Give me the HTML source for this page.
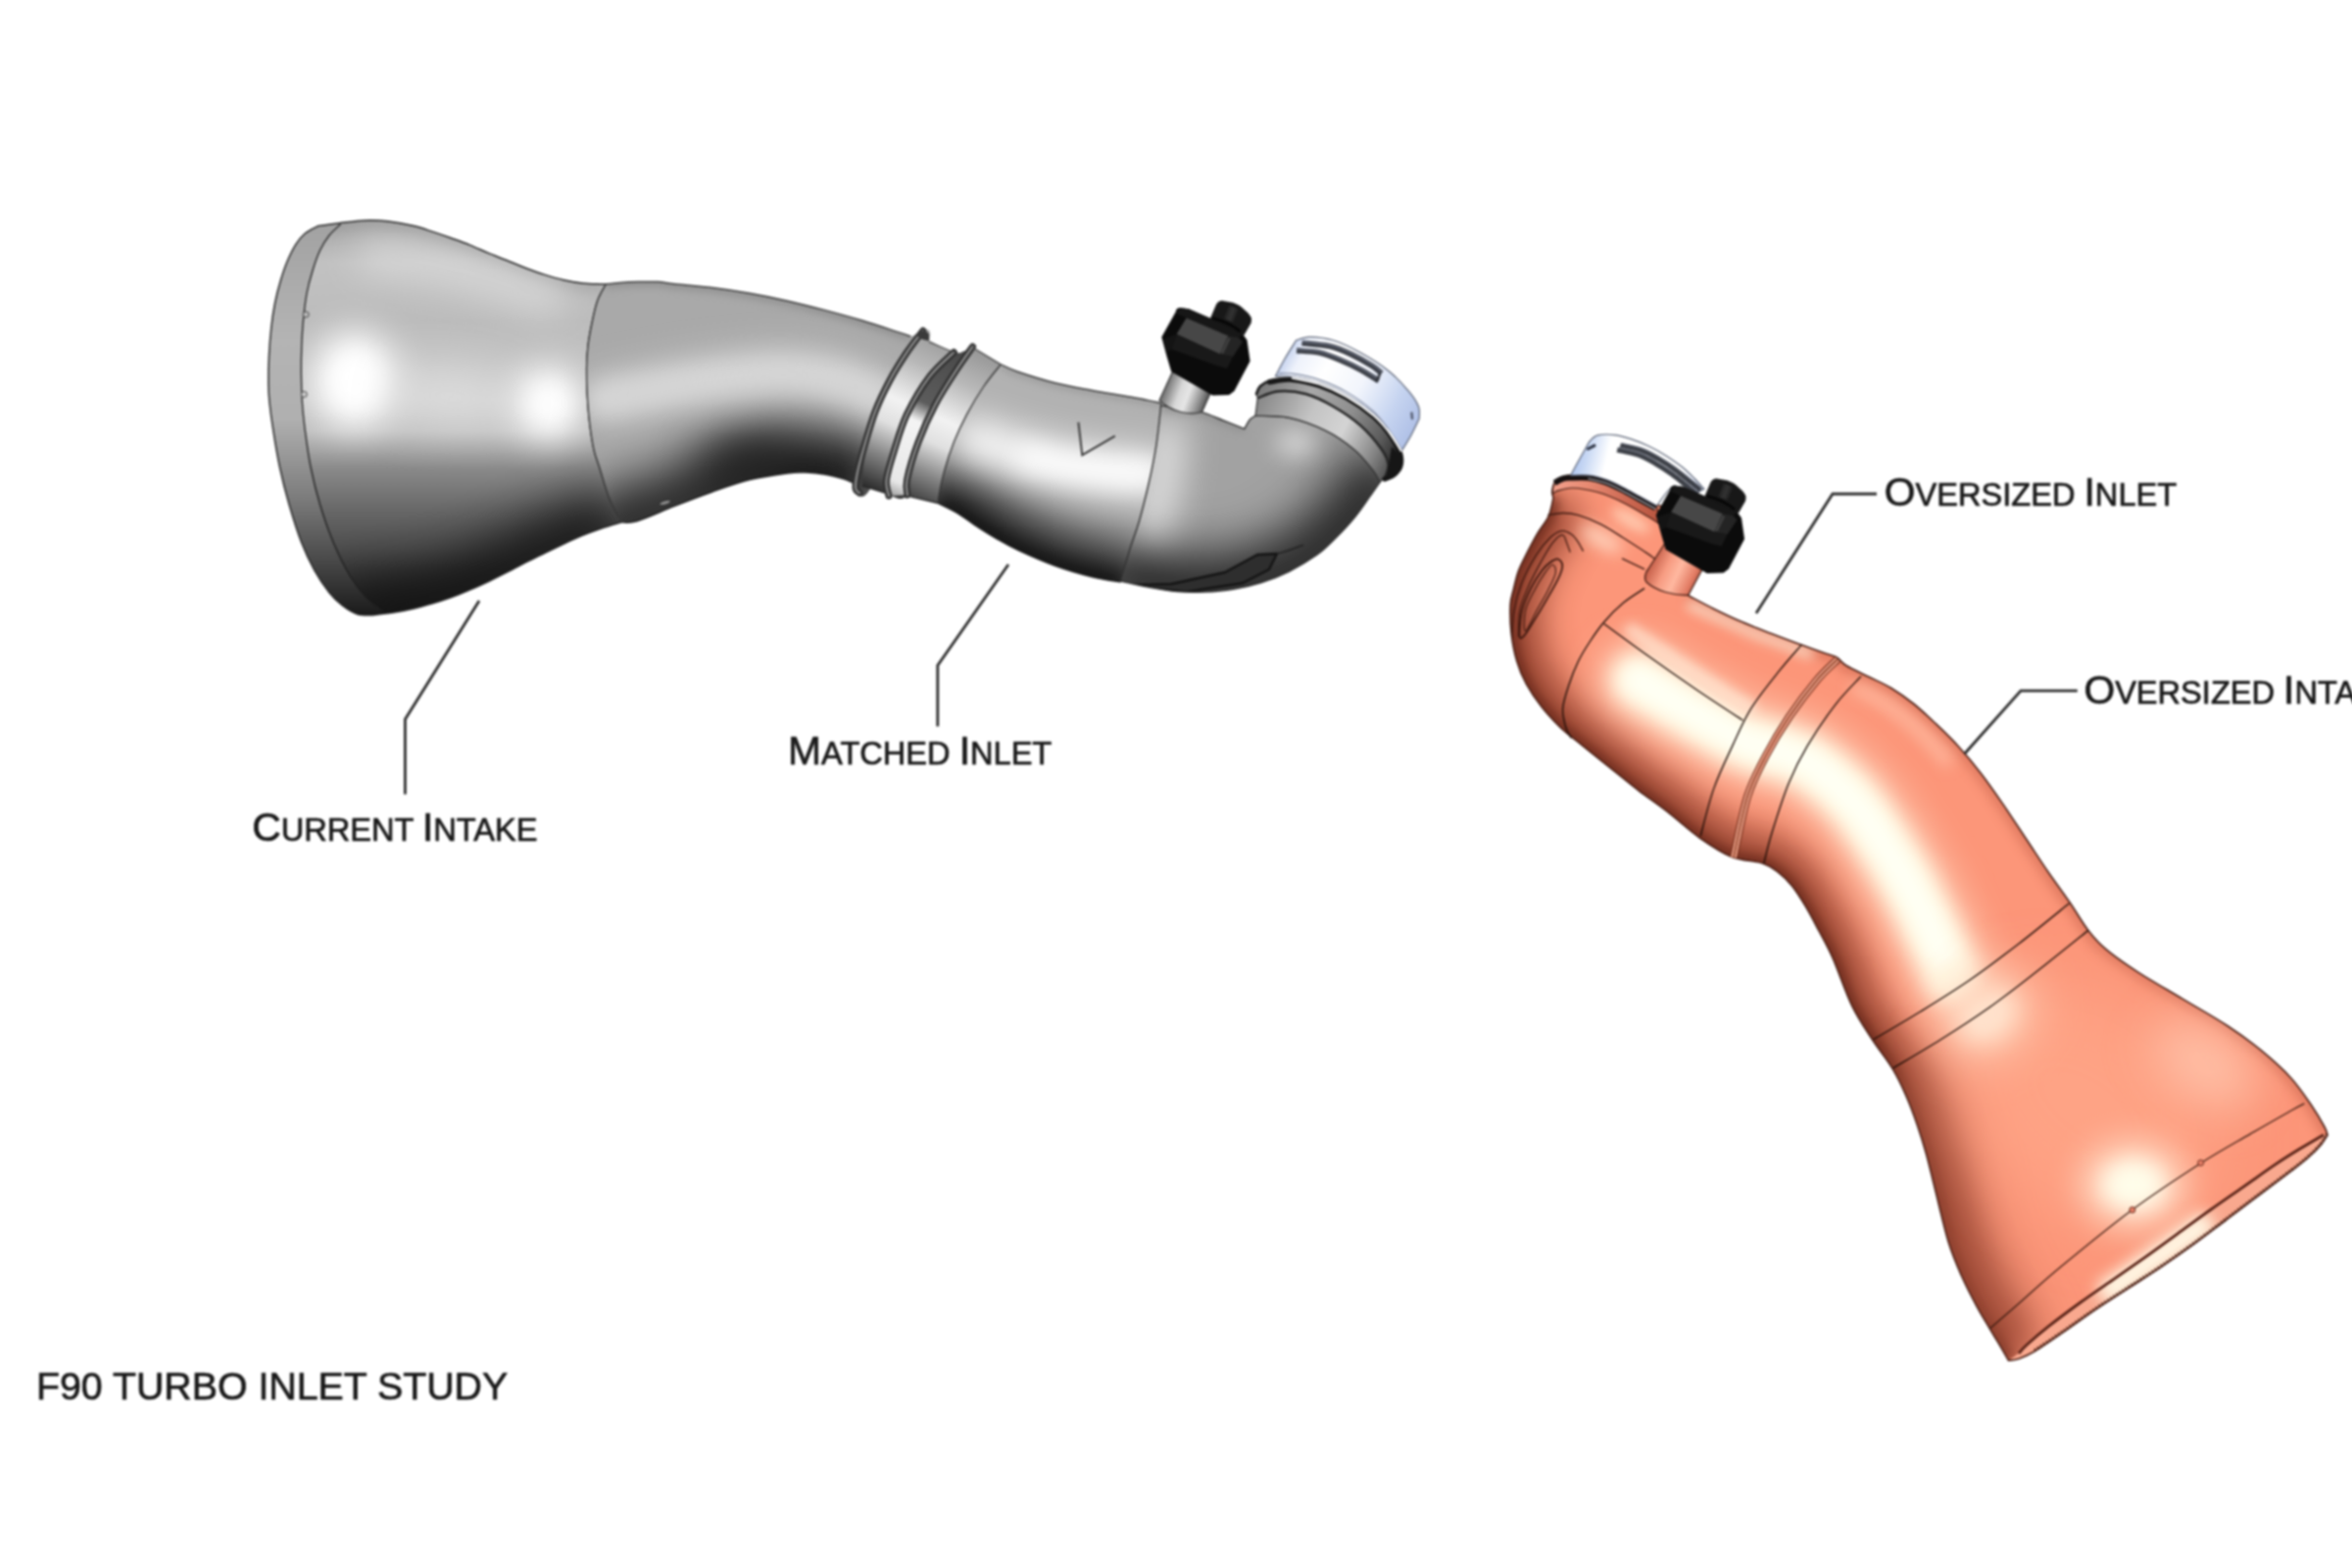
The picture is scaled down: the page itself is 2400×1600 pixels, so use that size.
<!DOCTYPE html>
<html><head><meta charset="utf-8"><title>F90 Turbo Inlet Study</title>
<style>
html,body{margin:0;padding:0;background:#fff;}
body{width:2400px;height:1600px;overflow:hidden;font-family:"Liberation Sans",sans-serif;}
svg{display:block}
.lb{font-family:"Liberation Sans",sans-serif;fill:#181818;stroke:#181818;stroke-width:0.7px;white-space:pre}
</style></head><body>
<svg width="2400" height="1600" viewBox="0 0 2400 1600">
<defs>
<clipPath id="cFunnel"><path d="M324.6 230.6C328.1 230.1 337.7 228.6 345.7 227.7C353.7 226.8 364.1 225.2 372.4 224.9C380.7 224.6 387.1 224.9 395.4 225.8C403.7 226.8 414.5 228.8 422.2 230.6C429.9 232.4 434.9 234.3 441.3 236.4C447.7 238.5 454.1 240.7 460.5 243.0C466.9 245.3 473.2 247.5 479.6 250.1C486.0 252.7 492.3 255.7 498.7 258.4C505.1 261.0 511.5 263.4 517.9 266.0C524.3 268.6 530.6 271.3 537.0 273.7C543.4 276.1 549.6 278.4 556.0 280.4C562.4 282.4 568.8 284.3 575.2 285.7C581.6 287.1 588.0 288.3 594.4 289.0C600.8 289.7 609.5 289.8 613.5 290.0C617.5 290.2 617.5 290.0 618.3 290.0L618.3 290.0C616.9 292.8 612.1 300.3 609.7 307.0C607.3 313.7 605.6 322.3 604.0 330.0C602.4 337.7 600.9 345.3 600.0 353.0C599.1 360.7 598.7 368.0 598.6 376.0C598.5 384.0 598.7 392.0 599.2 401.0C599.7 410.0 600.4 420.4 601.5 430.0C602.6 439.6 604.2 450.6 605.9 458.3C607.6 466.1 609.0 468.4 611.6 476.5C614.2 484.6 618.0 498.7 621.2 507.0C624.4 515.3 628.5 522.0 630.7 526.3C632.9 530.5 634.0 531.5 634.6 532.5L634.6 532.8C631.1 533.9 620.2 537.0 613.5 539.3C606.8 541.6 600.8 543.8 594.4 546.4C588.0 549.0 581.6 552.0 575.2 555.0C568.8 558.0 562.4 561.1 556.0 564.2C549.6 567.3 543.4 570.5 537.0 573.7C530.6 577.0 524.3 580.5 517.9 583.7C511.5 587.0 505.1 590.2 498.7 593.2C492.3 596.2 486.0 599.1 479.6 601.8C473.2 604.5 466.9 607.2 460.5 609.5C454.1 611.8 447.7 613.9 441.3 615.8C434.9 617.7 428.6 619.5 422.2 621.0C415.8 622.5 410.0 623.7 403.0 624.8C396.0 625.9 383.8 627.2 380.0 627.7L380.0 627.7C377.5 627.5 369.9 628.3 364.8 626.7C359.7 625.1 354.3 621.7 349.5 618.0C344.7 614.3 340.8 610.7 336.0 604.7C331.2 598.7 325.6 590.4 320.8 581.8C316.0 573.2 311.7 564.2 307.4 553.0C303.1 541.8 298.7 527.5 295.0 514.8C291.3 502.0 288.1 489.2 285.4 476.5C282.7 463.8 280.4 449.4 278.7 438.3C276.9 427.2 275.7 417.8 274.9 410.0C274.1 402.2 274.0 399.2 273.9 391.3C273.8 383.4 274.0 372.2 274.5 362.6C275.0 353.1 275.8 342.9 276.8 334.0C277.8 325.1 279.0 317.0 280.6 309.0C282.2 301.0 284.3 293.0 286.4 286.0C288.5 279.0 290.4 273.1 293.0 267.0C295.6 260.9 298.7 254.5 301.7 249.7C304.7 244.9 307.4 241.5 311.2 238.3C315.0 235.1 322.4 231.9 324.6 230.6Z"/></clipPath>
<clipPath id="cSeg2"><path d="M618.3 290.0C620.7 289.7 627.1 288.8 632.7 288.4C638.3 288.0 645.4 287.7 651.8 287.6C658.2 287.5 664.9 287.2 671.0 287.6C677.1 288.0 679.0 288.7 688.3 289.7C697.5 290.7 713.8 291.9 726.5 293.5C739.2 295.1 752.0 297.0 764.8 299.2C777.5 301.4 790.2 304.0 803.0 306.9C815.8 309.8 828.5 313.0 841.3 316.4C854.1 319.8 866.8 323.2 879.6 327.0C892.4 330.8 909.6 336.7 917.9 339.4C926.2 342.1 927.4 342.6 929.3 343.2L929.3 343.2C932.4 344.2 954.7 323.4 948.0 349.0C941.3 374.6 902.0 473.1 889.0 497.0C876.0 520.9 873.2 493.2 870.0 492.5L870.0 492.5C868.4 491.9 865.3 490.0 860.5 488.6C855.7 487.2 847.7 485.0 841.3 483.9C834.9 482.8 828.4 482.2 822.0 482.0C815.6 481.8 812.5 481.6 803.0 482.9C793.5 484.2 777.5 486.4 764.8 489.6C752.0 492.8 739.2 497.5 726.5 502.0C713.8 506.5 701.0 511.4 688.3 516.4C675.5 521.4 659.0 529.0 650.0 531.7C641.0 534.4 637.2 532.6 634.6 532.8L634.6 532.5C634.0 531.5 632.9 530.5 630.7 526.3C628.5 522.0 624.4 515.3 621.2 507.0C618.0 498.7 614.2 484.6 611.6 476.5C609.0 468.4 607.6 466.1 605.9 458.3C604.2 450.6 602.6 439.6 601.5 430.0C600.4 420.4 599.7 410.0 599.2 401.0C598.7 392.0 598.5 384.0 598.6 376.0C598.7 368.0 599.1 360.7 600.0 353.0C600.9 345.3 602.4 337.7 604.0 330.0C605.6 322.3 607.3 313.7 609.7 307.0C612.1 300.3 616.9 292.8 618.3 290.0Z"/></clipPath>
<clipPath id="cNeck"><path d="M944.0 345.0C948.9 347.4 966.5 357.3 973.3 359.5C980.1 361.7 981.8 358.8 985.0 358.0C988.2 357.2 986.5 352.7 992.5 355.0C998.5 357.3 1016.4 369.1 1021.2 371.9L1021.2 371.9C1018.3 375.6 1009.8 385.6 1004.0 394.0C998.2 402.4 991.8 413.1 986.7 422.6C981.6 432.2 977.1 441.7 973.3 451.3C969.5 460.9 966.3 470.9 963.8 480.0C961.2 489.1 959.0 500.4 958.0 506.0C957.0 511.6 957.6 512.2 957.5 513.5L957.5 513.5C952.8 512.4 935.9 507.6 929.3 506.8C922.7 506.1 922.5 509.6 918.0 509.0C913.5 508.4 908.9 505.2 902.6 503.0C896.3 500.8 883.8 497.2 880.0 496.0L880.0 496.0C880.3 491.7 880.2 479.7 882.0 470.0C883.8 460.3 887.0 449.7 891.0 438.0C895.0 426.3 900.3 411.7 906.0 400.0C911.7 388.3 918.7 377.2 925.0 368.0C931.3 358.8 940.8 348.8 944.0 345.0Z"/></clipPath>
<clipPath id="cSeg3"><path d="M1021.2 371.9C1024.0 373.1 1029.1 376.1 1038.3 379.2C1047.5 382.3 1063.8 387.5 1076.5 390.7C1089.2 393.9 1102.0 396.0 1114.8 398.4C1127.5 400.8 1141.8 402.9 1153.0 405.0C1164.2 407.1 1176.5 409.4 1181.8 410.8C1187.1 412.2 1184.1 413.2 1184.6 413.7L1184.6 413.7C1183.8 420.6 1181.9 441.6 1179.8 454.8C1177.7 468.0 1175.1 480.2 1172.2 493.0C1169.3 505.8 1165.8 520.1 1162.6 531.3C1159.4 542.5 1156.2 549.7 1153.0 560.0C1149.8 570.3 1145.1 587.5 1143.5 593.0L1143.5 594.0C1138.7 593.1 1126.0 591.5 1114.8 588.7C1103.6 585.9 1089.2 581.8 1076.5 577.2C1063.8 572.6 1048.4 565.7 1038.3 561.0C1028.2 556.3 1023.3 553.2 1016.0 549.0C1008.7 544.8 1000.9 539.8 994.4 535.5C987.9 531.2 983.1 527.2 977.0 523.5C970.9 519.8 960.8 515.2 957.5 513.5L957.5 513.5C957.6 512.2 957.0 511.6 958.0 506.0C959.0 500.4 961.2 489.1 963.8 480.0C966.3 470.9 969.5 460.9 973.3 451.3C977.1 441.7 981.6 432.2 986.7 422.6C991.8 413.1 998.2 402.4 1004.0 394.0C1009.8 385.6 1018.3 375.6 1021.2 371.9Z"/></clipPath>
<clipPath id="cElbow"><path d="M1184.6 413.7C1187.2 414.1 1193.1 414.9 1200.0 416.0C1206.9 417.1 1217.8 418.2 1225.8 420.4C1233.8 422.6 1240.7 426.1 1248.0 429.0C1255.3 431.9 1266.2 436.2 1269.8 437.6L1269.8 437.6C1270.8 436.0 1273.6 430.2 1275.5 428.0C1277.4 425.8 1280.1 424.9 1281.0 424.3L1281.0 424.3C1286.6 424.6 1302.8 423.6 1314.8 426.1C1326.8 428.6 1341.8 434.1 1353.0 439.5C1364.2 444.9 1373.8 451.9 1381.8 458.6C1389.8 465.3 1396.5 474.1 1400.9 479.7C1405.3 485.3 1406.8 489.9 1408.0 492.0L1408.0 492.0C1406.3 494.4 1402.2 500.5 1398.0 506.4C1393.8 512.3 1388.5 520.5 1382.7 527.5C1377.0 534.5 1369.9 542.1 1363.5 548.5C1357.1 554.9 1352.4 560.0 1344.4 565.8C1336.4 571.5 1325.3 578.2 1315.7 583.0C1306.1 587.8 1296.6 591.5 1287.0 594.5C1277.4 597.5 1267.9 599.6 1258.3 601.2C1248.7 602.8 1239.2 603.6 1229.6 604.0C1220.0 604.4 1210.5 604.4 1200.9 603.6C1191.3 602.8 1181.8 601.0 1172.2 599.2C1162.6 597.4 1148.3 594.0 1143.5 593.0L1143.5 593.0C1145.1 587.5 1149.8 570.3 1153.0 560.0C1156.2 549.7 1159.4 542.5 1162.6 531.3C1165.8 520.1 1169.3 505.8 1172.2 493.0C1175.1 480.2 1177.7 468.0 1179.8 454.8C1181.9 441.6 1183.8 420.6 1184.6 413.7Z"/></clipPath>
<clipPath id="cCollar"><path d="M1281.0 424.3C1286.6 424.6 1302.8 423.6 1314.8 426.1C1326.8 428.6 1341.8 434.1 1353.0 439.5C1364.2 444.9 1373.8 451.9 1381.8 458.6C1389.8 465.3 1396.5 474.1 1400.9 479.7C1405.3 485.3 1406.8 489.9 1408.0 492.0L1408.0 492.0C1409.0 491.0 1412.8 487.0 1413.8 486.0L1413.8 486.0C1414.3 483.9 1417.3 478.2 1416.6 473.6C1415.9 469.0 1414.3 464.8 1409.6 458.2C1404.9 451.6 1396.7 441.6 1388.5 434.3C1380.3 427.1 1369.8 420.1 1360.5 414.7C1351.2 409.3 1341.8 404.6 1332.4 402.0C1323.1 399.4 1312.6 398.6 1304.4 399.3C1296.2 400.0 1286.8 405.1 1283.3 406.3L1283.3 406.3C1282.9 409.3 1281.4 421.3 1281.0 424.3Z"/></clipPath>

<filter id="b4" filterUnits="userSpaceOnUse" x="0" y="0" width="2400" height="1600" color-interpolation-filters="sRGB"><feGaussianBlur stdDeviation="4"/></filter>
<filter id="b6" filterUnits="userSpaceOnUse" x="0" y="0" width="2400" height="1600" color-interpolation-filters="sRGB"><feGaussianBlur stdDeviation="6"/></filter>
<filter id="b10" filterUnits="userSpaceOnUse" x="0" y="0" width="2400" height="1600" color-interpolation-filters="sRGB"><feGaussianBlur stdDeviation="10"/></filter>
<filter id="b8" filterUnits="userSpaceOnUse" x="0" y="0" width="2400" height="1600" color-interpolation-filters="sRGB"><feGaussianBlur stdDeviation="8"/></filter>
<filter id="b12" filterUnits="userSpaceOnUse" x="0" y="0" width="2400" height="1600" color-interpolation-filters="sRGB"><feGaussianBlur stdDeviation="12"/></filter>
<filter id="b18" filterUnits="userSpaceOnUse" x="0" y="0" width="2400" height="1600" color-interpolation-filters="sRGB"><feGaussianBlur stdDeviation="18"/></filter>
<filter id="b25" filterUnits="userSpaceOnUse" x="0" y="0" width="2400" height="1600" color-interpolation-filters="sRGB"><feGaussianBlur stdDeviation="25"/></filter>
<filter id="b35" filterUnits="userSpaceOnUse" x="0" y="0" width="2400" height="1600" color-interpolation-filters="sRGB"><feGaussianBlur stdDeviation="35"/></filter>
<filter id="soft" filterUnits="userSpaceOnUse" x="0" y="0" width="2400" height="1600" color-interpolation-filters="sRGB"><feGaussianBlur stdDeviation="0.9"/></filter>
<linearGradient id="gFunnel" gradientUnits="userSpaceOnUse" x1="0" y1="228" x2="0" y2="628">
 <stop offset="0" stop-color="#a8a8a8"/><stop offset="0.10" stop-color="#c2c2c2"/><stop offset="0.25" stop-color="#bcbcbc"/>
 <stop offset="0.45" stop-color="#c8c8c8"/><stop offset="0.53" stop-color="#c0c0c0"/><stop offset="0.625" stop-color="#8a8a8a"/>
 <stop offset="0.73" stop-color="#686868"/><stop offset="0.83" stop-color="#4e4e4e"/><stop offset="0.93" stop-color="#2c2c2c"/><stop offset="1" stop-color="#141414"/>
</linearGradient>
<linearGradient id="gRim" gradientUnits="userSpaceOnUse" x1="0" y1="228" x2="0" y2="628">
 <stop offset="0" stop-color="#a2a2a2"/><stop offset="0.3" stop-color="#b4b4b4"/><stop offset="0.5" stop-color="#b0b0b0"/>
 <stop offset="0.7" stop-color="#7c7c7c"/><stop offset="0.9" stop-color="#3c3c3c"/><stop offset="1" stop-color="#1a1a1a"/>
</linearGradient>

<linearGradient id="gNeck" gradientUnits="userSpaceOnUse" x1="985" y1="355" x2="915" y2="510">
 <stop offset="0" stop-color="#9a9a9a"/><stop offset="0.2" stop-color="#b8b8b8"/><stop offset="0.45" stop-color="#f2f2f2"/><stop offset="0.6" stop-color="#e0e0e0"/>
 <stop offset="0.78" stop-color="#8a8a8a"/><stop offset="1" stop-color="#2e2e2e"/></linearGradient>
<linearGradient id="gGroove" gradientUnits="userSpaceOnUse" x1="985" y1="355" x2="915" y2="510">
 <stop offset="0" stop-color="#484848"/><stop offset="0.40" stop-color="#5c5c5c"/><stop offset="0.52" stop-color="#f4f4f4"/><stop offset="0.9" stop-color="#e8e8e8"/><stop offset="1" stop-color="#999"/></linearGradient>
<linearGradient id="gCollar" gradientUnits="userSpaceOnUse" x1="1285" y1="415" x2="1415" y2="480">
 <stop offset="0" stop-color="#8c8c8c"/><stop offset="0.35" stop-color="#c4c4c4"/><stop offset="0.6" stop-color="#d4d4d4"/><stop offset="0.85" stop-color="#8a8a8a"/><stop offset="1" stop-color="#555"/></linearGradient>
<linearGradient id="gFlange" gradientUnits="userSpaceOnUse" x1="1285" y1="400" x2="1425" y2="470">
 <stop offset="0" stop-color="#7a7a7a"/><stop offset="0.3" stop-color="#a8a8a8"/><stop offset="0.6" stop-color="#8e8e8e"/><stop offset="0.85" stop-color="#5a5a5a"/><stop offset="1" stop-color="#2a2a2a"/></linearGradient>
<linearGradient id="gClamp" gradientUnits="userSpaceOnUse" x1="1305" y1="365" x2="1445" y2="440">
 <stop offset="0" stop-color="#b8c8ea"/><stop offset="0.12" stop-color="#eef2fb"/><stop offset="0.3" stop-color="#ffffff"/><stop offset="0.55" stop-color="#f2f5fc"/><stop offset="0.8" stop-color="#c6d4f0"/><stop offset="1" stop-color="#aebfe6"/></linearGradient>
<linearGradient id="gStem" gradientUnits="userSpaceOnUse" x1="1190" y1="392" x2="1232" y2="408">
 <stop offset="0" stop-color="#6e6e6e"/><stop offset="0.35" stop-color="#d8d8d8"/><stop offset="0.55" stop-color="#e6e6e6"/><stop offset="0.85" stop-color="#8c8c8c"/><stop offset="1" stop-color="#555"/></linearGradient>
<clipPath id="cOrange"><path d="M1585.0 508.0C1584.2 511.2 1582.8 520.9 1580.0 527.0C1577.2 533.1 1572.1 538.6 1568.5 544.8C1564.9 550.9 1561.5 557.5 1558.3 563.9C1555.1 570.3 1551.6 576.6 1549.3 583.0C1547.0 589.4 1545.6 596.5 1544.2 602.2C1542.8 607.9 1541.4 610.1 1541.1 617.4C1540.8 624.7 1541.0 636.5 1542.1 646.1C1543.2 655.7 1545.2 666.2 1547.8 674.8C1550.3 683.4 1553.2 690.1 1557.4 697.8C1561.6 705.4 1567.0 713.4 1572.7 720.7C1578.4 728.0 1584.8 735.1 1591.8 741.8C1598.8 748.5 1606.2 753.9 1614.8 760.9C1623.4 767.9 1633.9 776.2 1643.5 783.9C1653.1 791.5 1662.6 799.5 1672.2 806.8C1681.8 814.1 1690.5 819.9 1700.9 827.9C1711.3 835.9 1723.5 847.3 1734.4 855.0C1745.4 862.7 1755.9 869.9 1766.6 874.2C1777.3 878.5 1790.7 878.3 1798.7 881.0C1806.7 883.7 1809.8 886.5 1814.8 890.3C1819.8 894.1 1824.0 898.3 1828.6 904.0C1833.2 909.7 1837.7 917.0 1842.3 924.7C1846.9 932.4 1851.4 941.1 1856.1 950.0C1860.8 958.9 1864.7 965.3 1870.3 978.0C1875.9 990.7 1883.1 1012.5 1889.8 1026.3C1896.5 1040.1 1903.6 1050.0 1910.5 1060.7C1917.4 1071.4 1925.5 1081.0 1931.2 1090.6C1937.0 1100.2 1940.8 1108.5 1945.0 1118.1C1949.2 1127.7 1953.0 1138.0 1956.4 1148.0C1959.8 1158.0 1962.5 1166.6 1965.6 1177.8C1968.7 1189.0 1971.1 1200.0 1974.9 1215.0C1978.7 1230.0 1983.8 1253.3 1988.3 1267.8C1992.8 1282.3 1996.9 1291.4 2001.7 1302.2C2006.5 1313.0 2012.2 1323.9 2017.0 1332.8C2021.8 1341.7 2026.3 1348.8 2030.4 1355.8C2034.5 1362.8 2038.6 1369.5 2041.8 1374.9C2045.0 1380.3 2048.2 1386.1 2049.5 1388.3L2049.5 1388.3C2051.2 1388.0 2055.5 1388.1 2060.0 1386.5C2064.5 1384.9 2068.8 1383.4 2076.5 1378.8C2084.2 1374.2 2095.8 1366.1 2106.3 1358.9C2116.8 1351.7 2128.4 1343.2 2139.5 1335.7C2150.6 1328.2 2161.6 1321.3 2172.7 1314.1C2183.8 1306.9 2194.8 1300.0 2205.8 1292.6C2216.9 1285.1 2227.9 1277.4 2239.0 1269.4C2250.1 1261.4 2261.1 1252.8 2272.2 1244.5C2283.2 1236.2 2294.2 1227.9 2305.3 1219.6C2316.4 1211.3 2330.2 1201.0 2338.5 1194.7C2346.8 1188.4 2350.1 1185.9 2355.1 1181.5C2360.1 1177.1 2365.1 1172.1 2368.4 1168.2C2371.7 1164.3 2373.9 1159.9 2375.0 1158.2L2375.0 1158.2C2374.5 1156.8 2374.8 1155.2 2372.0 1150.0C2369.2 1144.8 2363.9 1135.7 2358.2 1127.3C2352.4 1118.9 2345.9 1108.9 2337.5 1099.7C2329.1 1090.5 2318.4 1081.0 2307.7 1072.2C2297.0 1063.4 2286.7 1055.8 2273.3 1047.0C2259.9 1038.2 2242.6 1028.6 2227.3 1019.4C2212.0 1010.2 2194.4 1000.2 2181.4 991.8C2168.4 983.4 2157.7 976.0 2149.3 968.9C2140.9 961.8 2137.0 957.2 2130.9 949.4C2124.8 941.5 2119.4 931.6 2112.6 921.8C2105.8 911.9 2097.9 901.3 2090.3 890.3C2082.8 879.3 2075.0 867.3 2067.3 855.8C2059.7 844.3 2052.1 832.5 2044.4 821.4C2036.8 810.3 2029.1 799.2 2021.4 789.2C2013.8 779.2 2006.2 770.1 1998.5 761.7C1990.8 753.3 1983.2 746.0 1975.5 738.7C1967.8 731.4 1960.2 724.1 1952.5 718.0C1944.8 711.9 1937.2 706.6 1929.6 702.0C1921.9 697.4 1914.2 694.3 1906.6 690.5C1898.9 686.7 1889.0 682.2 1883.7 679.0C1878.4 675.8 1877.9 673.0 1874.5 671.0C1871.1 669.0 1869.8 669.3 1863.5 667.1C1857.2 664.9 1846.3 661.1 1836.7 657.6C1827.1 654.1 1816.0 649.9 1806.1 646.1C1796.2 642.3 1787.0 638.8 1777.4 634.6C1767.8 630.5 1757.8 625.7 1748.7 621.2C1739.6 616.7 1727.2 610.0 1722.9 607.8L1722.9 607.8C1721.8 606.2 1717.8 606.0 1716.0 598.0C1714.2 590.0 1714.0 572.7 1712.0 560.0C1710.0 547.3 1707.5 529.4 1704.0 522.0C1700.5 514.6 1693.1 516.6 1690.9 515.5L1690.9 515.5C1687.9 513.1 1680.2 505.6 1673.0 501.4C1665.8 497.1 1656.1 492.8 1647.6 490.0C1639.1 487.2 1629.5 485.7 1622.0 484.8C1614.5 483.9 1608.6 483.7 1602.9 484.8C1597.2 485.9 1590.8 488.4 1587.6 491.2C1584.4 494.0 1584.2 498.6 1583.8 501.4C1583.4 504.2 1584.8 506.9 1585.0 508.0Z"/></clipPath>

<linearGradient id="gOrBase" gradientUnits="userSpaceOnUse" x1="1560" y1="800" x2="1900" y2="560">
 <stop offset="0" stop-color="#f08a70"/><stop offset="1" stop-color="#f79c82"/></linearGradient>

<linearGradient id="gOStem" gradientUnits="userSpaceOnUse" x1="1688" y1="570" x2="1734" y2="592">
 <stop offset="0" stop-color="#c8624c"/><stop offset="0.3" stop-color="#f79c82"/><stop offset="0.55" stop-color="#ffb8a0"/><stop offset="0.85" stop-color="#e47e66"/><stop offset="1" stop-color="#b85a44"/></linearGradient>
<linearGradient id="gClamp2" gradientUnits="userSpaceOnUse" x1="1605" y1="470" x2="1730" y2="500">
 <stop offset="0" stop-color="#aec4ee"/><stop offset="0.1" stop-color="#c8d8f4"/><stop offset="0.26" stop-color="#ffffff"/><stop offset="0.85" stop-color="#ffffff"/><stop offset="1" stop-color="#dde4f4"/></linearGradient>
<linearGradient id="gLip" gradientUnits="userSpaceOnUse" x1="1585" y1="495" x2="1692" y2="525">
 <stop offset="0" stop-color="#f2a08c"/><stop offset="0.3" stop-color="#e88a72"/><stop offset="0.7" stop-color="#cc6852"/><stop offset="1" stop-color="#b85640"/></linearGradient>
</defs>
<rect width="2400" height="1600" fill="#fff"/>
<g filter="url(#soft)">
<g id="grey">
<g clip-path="url(#cFunnel)">
<rect x="260" y="210" width="400" height="440" fill="url(#gFunnel)"/>
<path d="M634.6 532.8C631.1 533.9 620.2 537.0 613.5 539.3C606.8 541.6 600.8 543.8 594.4 546.4C588.0 549.0 581.6 552.0 575.2 555.0C568.8 558.0 562.4 561.1 556.0 564.2C549.6 567.3 543.4 570.5 537.0 573.7C530.6 577.0 524.3 580.5 517.9 583.7C511.5 587.0 505.1 590.2 498.7 593.2C492.3 596.2 486.0 599.1 479.6 601.8C473.2 604.5 466.9 607.2 460.5 609.5C454.1 611.8 447.7 613.9 441.3 615.8C434.9 617.7 428.6 619.5 422.2 621.0C415.8 622.5 410.0 623.7 403.0 624.8C396.0 625.9 386.4 625.2 380.0 627.7C373.6 630.2 367.3 638.0 364.8 640.0" fill="none" stroke="#161616" stroke-width="70" filter="url(#b25)" opacity="0.95"/>
<path d="M324.6 230.6C328.1 230.1 337.7 228.6 345.7 227.7C353.7 226.8 364.1 225.2 372.4 224.9C380.7 224.6 387.1 224.9 395.4 225.8C403.7 226.8 414.5 228.8 422.2 230.6C429.9 232.4 434.9 234.3 441.3 236.4C447.7 238.5 454.1 240.7 460.5 243.0C466.9 245.3 473.2 247.5 479.6 250.1C486.0 252.7 492.3 255.7 498.7 258.4C505.1 261.0 511.5 263.4 517.9 266.0C524.3 268.6 530.6 271.3 537.0 273.7C543.4 276.1 549.6 278.4 556.0 280.4C562.4 282.4 568.8 284.3 575.2 285.7C581.6 287.1 588.0 288.3 594.4 289.0C600.8 289.7 609.5 289.8 613.5 290.0C617.5 290.2 617.5 290.0 618.3 290.0" fill="none" stroke="#909090" stroke-width="10" filter="url(#b8)" opacity="0.8"/>
<path d="M380 262 C 440 262 500 285 560 305" fill="none" stroke="#dcdcdc" stroke-width="34" stroke-linecap="round" filter="url(#b18)" opacity="0.85"/>
<ellipse cx="362" cy="388" rx="44" ry="50" fill="#ffffff" filter="url(#b18)"/>
<ellipse cx="365" cy="388" rx="22" ry="26" fill="#ffffff" filter="url(#b12)"/>
<ellipse cx="558" cy="412" rx="36" ry="38" fill="#ffffff" filter="url(#b18)"/>
<ellipse cx="560" cy="412" rx="16" ry="18" fill="#ffffff" filter="url(#b12)"/>
<path d="M400 400 L520 410" stroke="#e6e6e6" stroke-width="50" filter="url(#b25)" opacity="0.8"/>
<path d="M347.6 228.7C345.7 230.6 339.5 235.7 336.0 240.2C332.5 244.7 329.4 249.4 326.5 255.5C323.6 261.6 321.1 269.2 318.9 276.5C316.6 283.8 314.5 291.5 313.0 299.5C311.5 307.5 310.6 315.5 309.7 324.4C308.8 333.3 308.2 343.4 307.8 353.0C307.4 362.6 307.3 372.2 307.4 381.8C307.5 391.4 307.8 401.1 308.4 410.5C309.0 419.9 309.8 427.3 311.2 438.3C312.6 449.3 314.4 463.8 317.0 476.5C319.6 489.2 322.7 502.0 326.5 514.8C330.3 527.5 334.9 540.9 340.0 553.0C345.1 565.1 351.3 577.9 357.0 587.5C362.7 597.1 368.6 604.4 374.4 610.5C380.2 616.6 388.7 621.7 391.6 623.9L391.6 623.9C389.7 624.5 381.9 627.1 380.0 627.7L380.0 627.7C377.5 627.5 369.9 628.3 364.8 626.7C359.7 625.1 354.3 621.7 349.5 618.0C344.7 614.3 340.8 610.7 336.0 604.7C331.2 598.7 325.6 590.4 320.8 581.8C316.0 573.2 311.7 564.2 307.4 553.0C303.1 541.8 298.7 527.5 295.0 514.8C291.3 502.0 288.1 489.2 285.4 476.5C282.7 463.8 280.4 449.4 278.7 438.3C276.9 427.2 275.7 417.8 274.9 410.0C274.1 402.2 274.0 399.2 273.9 391.3C273.8 383.4 274.0 372.2 274.5 362.6C275.0 353.1 275.8 342.9 276.8 334.0C277.8 325.1 279.0 317.0 280.6 309.0C282.2 301.0 284.3 293.0 286.4 286.0C288.5 279.0 290.4 273.1 293.0 267.0C295.6 260.9 298.7 254.5 301.7 249.7C304.7 244.9 307.4 241.5 311.2 238.3C315.0 235.1 322.4 231.9 324.6 230.6L324.6 230.6C328.4 230.3 343.8 229.0 347.6 228.7Z" fill="url(#gRim)"/>
</g>
<path d="M324.6 230.6C328.1 230.1 337.7 228.6 345.7 227.7C353.7 226.8 364.1 225.2 372.4 224.9C380.7 224.6 387.1 224.9 395.4 225.8C403.7 226.8 414.5 228.8 422.2 230.6C429.9 232.4 434.9 234.3 441.3 236.4C447.7 238.5 454.1 240.7 460.5 243.0C466.9 245.3 473.2 247.5 479.6 250.1C486.0 252.7 492.3 255.7 498.7 258.4C505.1 261.0 511.5 263.4 517.9 266.0C524.3 268.6 530.6 271.3 537.0 273.7C543.4 276.1 549.6 278.4 556.0 280.4C562.4 282.4 568.8 284.3 575.2 285.7C581.6 287.1 588.0 288.3 594.4 289.0C600.8 289.7 609.5 289.8 613.5 290.0C617.5 290.2 617.5 290.0 618.3 290.0L618.3 290.0C616.9 292.8 612.1 300.3 609.7 307.0C607.3 313.7 605.6 322.3 604.0 330.0C602.4 337.7 600.9 345.3 600.0 353.0C599.1 360.7 598.7 368.0 598.6 376.0C598.5 384.0 598.7 392.0 599.2 401.0C599.7 410.0 600.4 420.4 601.5 430.0C602.6 439.6 604.2 450.6 605.9 458.3C607.6 466.1 609.0 468.4 611.6 476.5C614.2 484.6 618.0 498.7 621.2 507.0C624.4 515.3 628.5 522.0 630.7 526.3C632.9 530.5 634.0 531.5 634.6 532.5L634.6 532.8C631.1 533.9 620.2 537.0 613.5 539.3C606.8 541.6 600.8 543.8 594.4 546.4C588.0 549.0 581.6 552.0 575.2 555.0C568.8 558.0 562.4 561.1 556.0 564.2C549.6 567.3 543.4 570.5 537.0 573.7C530.6 577.0 524.3 580.5 517.9 583.7C511.5 587.0 505.1 590.2 498.7 593.2C492.3 596.2 486.0 599.1 479.6 601.8C473.2 604.5 466.9 607.2 460.5 609.5C454.1 611.8 447.7 613.9 441.3 615.8C434.9 617.7 428.6 619.5 422.2 621.0C415.8 622.5 410.0 623.7 403.0 624.8C396.0 625.9 383.8 627.2 380.0 627.7L380.0 627.7C377.5 627.5 369.9 628.3 364.8 626.7C359.7 625.1 354.3 621.7 349.5 618.0C344.7 614.3 340.8 610.7 336.0 604.7C331.2 598.7 325.6 590.4 320.8 581.8C316.0 573.2 311.7 564.2 307.4 553.0C303.1 541.8 298.7 527.5 295.0 514.8C291.3 502.0 288.1 489.2 285.4 476.5C282.7 463.8 280.4 449.4 278.7 438.3C276.9 427.2 275.7 417.8 274.9 410.0C274.1 402.2 274.0 399.2 273.9 391.3C273.8 383.4 274.0 372.2 274.5 362.6C275.0 353.1 275.8 342.9 276.8 334.0C277.8 325.1 279.0 317.0 280.6 309.0C282.2 301.0 284.3 293.0 286.4 286.0C288.5 279.0 290.4 273.1 293.0 267.0C295.6 260.9 298.7 254.5 301.7 249.7C304.7 244.9 307.4 241.5 311.2 238.3C315.0 235.1 322.4 231.9 324.6 230.6Z" fill="none" stroke="#262626" stroke-width="1.5"/>
<path d="M347.6 228.7C345.7 230.6 339.5 235.7 336.0 240.2C332.5 244.7 329.4 249.4 326.5 255.5C323.6 261.6 321.1 269.2 318.9 276.5C316.6 283.8 314.5 291.5 313.0 299.5C311.5 307.5 310.6 315.5 309.7 324.4C308.8 333.3 308.2 343.4 307.8 353.0C307.4 362.6 307.3 372.2 307.4 381.8C307.5 391.4 307.8 401.1 308.4 410.5C309.0 419.9 309.8 427.3 311.2 438.3C312.6 449.3 314.4 463.8 317.0 476.5C319.6 489.2 322.7 502.0 326.5 514.8C330.3 527.5 334.9 540.9 340.0 553.0C345.1 565.1 351.3 577.9 357.0 587.5C362.7 597.1 368.6 604.4 374.4 610.5C380.2 616.6 388.7 621.7 391.6 623.9" fill="none" stroke="#1e1e1e" stroke-width="1.3"/>
<circle cx="312.2" cy="320.9" r="3" fill="#bbb" stroke="#444" stroke-width="1"/>
<circle cx="310.3" cy="402.4" r="3" fill="#ccc" stroke="#444" stroke-width="1"/>
<g clip-path="url(#cSeg2)">
<rect x="590" y="270" width="380" height="280" fill="#a9a9a9"/>
<path d="M726.5 502.0C732.9 499.9 752.0 492.8 764.8 489.6C777.5 486.4 793.5 484.2 803.0 482.9C812.5 481.6 815.6 481.8 822.0 482.0C828.4 482.2 834.9 482.8 841.3 483.9C847.7 485.0 855.7 487.2 860.5 488.6C865.3 490.0 865.1 488.9 870.0 492.5C874.9 496.1 886.7 507.1 890.0 510.0" fill="none" stroke="#141414" stroke-width="84" filter="url(#b25)"/>
<path d="M600.0 565.0C605.8 559.6 626.3 538.3 634.6 532.8C642.9 527.2 641.0 534.4 650.0 531.7C659.0 529.0 675.5 521.4 688.3 516.4C701.0 511.4 713.8 506.5 726.5 502.0C739.2 497.5 752.0 492.8 764.8 489.6C777.5 486.4 796.6 484.0 803.0 482.9" fill="none" stroke="#262626" stroke-width="76" filter="url(#b25)"/>
<path d="M600 411 C 660 398 720 386 780 381 C 830 378 872 388 912 414" fill="none" stroke="#e0e0e0" stroke-width="30" filter="url(#b12)"/>
<path d="M600 411 C 660 398 720 386 780 381 C 830 378 872 388 912 414" fill="none" stroke="#d4d4d4" stroke-width="50" filter="url(#b18)" opacity="0.7"/>
<path d="M618.3 290.0C620.7 289.7 627.1 288.8 632.7 288.4C638.3 288.0 645.4 287.7 651.8 287.6C658.2 287.5 664.9 287.2 671.0 287.6C677.1 288.0 679.0 288.7 688.3 289.7C697.5 290.7 713.8 291.9 726.5 293.5C739.2 295.1 752.0 297.0 764.8 299.2C777.5 301.4 790.2 304.0 803.0 306.9C815.8 309.8 828.5 313.0 841.3 316.4C854.1 319.8 866.8 323.2 879.6 327.0C892.4 330.8 909.6 336.7 917.9 339.4C926.2 342.1 927.4 342.6 929.3 343.2" fill="none" stroke="#8c8c8c" stroke-width="8" filter="url(#b4)"/>
</g>
<path d="M618.3 290.0C620.7 289.7 627.1 288.8 632.7 288.4C638.3 288.0 645.4 287.7 651.8 287.6C658.2 287.5 664.9 287.2 671.0 287.6C677.1 288.0 679.0 288.7 688.3 289.7C697.5 290.7 713.8 291.9 726.5 293.5C739.2 295.1 752.0 297.0 764.8 299.2C777.5 301.4 790.2 304.0 803.0 306.9C815.8 309.8 828.5 313.0 841.3 316.4C854.1 319.8 866.8 323.2 879.6 327.0C892.4 330.8 909.6 336.7 917.9 339.4C926.2 342.1 927.4 342.6 929.3 343.2" fill="none" stroke="#3c3c3c" stroke-width="1.5"/>
<path d="M870.0 492.5C868.4 491.9 865.3 490.0 860.5 488.6C855.7 487.2 847.7 485.0 841.3 483.9C834.9 482.8 828.4 482.2 822.0 482.0C815.6 481.8 812.5 481.6 803.0 482.9C793.5 484.2 777.5 486.4 764.8 489.6C752.0 492.8 739.2 497.5 726.5 502.0C713.8 506.5 701.0 511.4 688.3 516.4C675.5 521.4 659.0 529.0 650.0 531.7C641.0 534.4 637.2 532.6 634.6 532.8" fill="none" stroke="#222" stroke-width="1.5"/>
<path d="M618.3 290.0C616.9 292.8 612.1 300.3 609.7 307.0C607.3 313.7 605.6 322.3 604.0 330.0C602.4 337.7 600.9 345.3 600.0 353.0C599.1 360.7 598.7 368.0 598.6 376.0C598.5 384.0 598.7 392.0 599.2 401.0C599.7 410.0 600.4 420.4 601.5 430.0C602.6 439.6 604.2 450.6 605.9 458.3C607.6 466.1 609.0 468.4 611.6 476.5C614.2 484.6 618.0 498.7 621.2 507.0C624.4 515.3 628.5 522.0 630.7 526.3C632.9 530.5 634.0 531.5 634.6 532.5" fill="none" stroke="#3a3a3a" stroke-width="1.3"/>
<ellipse cx="678.6" cy="513" rx="6" ry="2.2" transform="rotate(-18 678.6 513)" fill="#8a8a8a" stroke="#2a2a2a" stroke-width="0.9"/>
<g clip-path="url(#cNeck)">
<rect x="860" y="330" width="180" height="190" fill="url(#gNeck)"/>
<path d="M973.3 359.5C969.2 363.6 956.5 373.9 948.5 384.4C940.5 394.9 931.6 409.9 925.5 422.6C919.4 435.4 915.6 449.7 912.1 460.9C908.6 472.1 905.4 482.1 904.5 489.6C903.6 497.1 906.6 503.3 907.0 506.0L907.0 506.0C910.2 505.8 922.8 505.2 926.0 505.0L926.0 505.0C925.9 502.4 923.7 498.6 925.5 489.6C927.3 480.7 932.2 464.1 937.0 451.3C941.8 438.5 947.8 425.1 954.2 413.0C960.6 400.9 968.8 388.5 975.2 378.6C981.6 368.7 989.6 357.9 992.5 353.8L992.5 353.8C989.3 354.8 976.5 358.6 973.3 359.5Z" fill="url(#gGroove)"/>
</g>
<path d="M941.8 337.5C939.0 341.2 930.6 351.6 925.0 360.0C919.4 368.4 913.3 378.0 908.0 388.0C902.7 398.0 897.3 408.8 893.0 420.0C888.7 431.2 885.0 444.7 882.0 455.0C879.0 465.3 876.5 474.8 875.0 482.0C873.5 489.2 872.7 494.5 873.0 498.0C873.3 501.5 876.3 502.2 877.0 503.0" fill="none" stroke="#303030" stroke-width="7" stroke-linecap="round"/>
<path d="M941.8 337.5C939.0 341.2 930.6 351.6 925.0 360.0C919.4 368.4 913.3 378.0 908.0 388.0C902.7 398.0 897.3 408.8 893.0 420.0C888.7 431.2 885.0 444.7 882.0 455.0C879.0 465.3 876.5 474.8 875.0 482.0C873.5 489.2 872.7 494.5 873.0 498.0C873.3 501.5 876.3 502.2 877.0 503.0" fill="none" stroke="#8a8a8a" stroke-width="2.3" stroke-linecap="round"/>
<path d="M973.3 359.5C969.2 363.6 956.5 373.9 948.5 384.4C940.5 394.9 931.6 409.9 925.5 422.6C919.4 435.4 915.6 449.7 912.1 460.9C908.6 472.1 905.4 482.1 904.5 489.6C903.6 497.1 906.6 503.3 907.0 506.0" fill="none" stroke="#303030" stroke-width="7" stroke-linecap="round"/>
<path d="M973.3 359.5C969.2 363.6 956.5 373.9 948.5 384.4C940.5 394.9 931.6 409.9 925.5 422.6C919.4 435.4 915.6 449.7 912.1 460.9C908.6 472.1 905.4 482.1 904.5 489.6C903.6 497.1 906.6 503.3 907.0 506.0" fill="none" stroke="#8a8a8a" stroke-width="2.3" stroke-linecap="round"/>
<path d="M992.5 353.8C989.6 357.9 981.6 368.7 975.2 378.6C968.8 388.5 960.6 400.9 954.2 413.0C947.8 425.1 941.8 438.5 937.0 451.3C932.2 464.1 927.3 480.7 925.5 489.6C923.7 498.6 925.9 502.4 926.0 505.0" fill="none" stroke="#303030" stroke-width="7" stroke-linecap="round"/>
<path d="M992.5 353.8C989.6 357.9 981.6 368.7 975.2 378.6C968.8 388.5 960.6 400.9 954.2 413.0C947.8 425.1 941.8 438.5 937.0 451.3C932.2 464.1 927.3 480.7 925.5 489.6C923.7 498.6 925.9 502.4 926.0 505.0" fill="none" stroke="#8a8a8a" stroke-width="2.3" stroke-linecap="round"/>
<path d="M948 349 L973.3 359.5 M992.5 354.5 L1021.2 371.9" stroke="#444" stroke-width="1.3"/>
<path d="M935 342 C938 336 944 336 948 341 L948 348 L940 346 Z" fill="#3a3a3a"/>
<path d="M880 496 L902.6 503 M929.3 506.8 L957.5 513.5" stroke="#222" stroke-width="1.3"/>
<g clip-path="url(#cSeg3)">
<rect x="940" y="350" width="260" height="260" fill="#b2b2b2"/>
<path d="M930.0 500.0C934.6 502.2 949.7 509.6 957.5 513.5C965.3 517.4 970.9 519.8 977.0 523.5C983.1 527.2 987.9 531.2 994.4 535.5C1000.9 539.8 1008.7 544.8 1016.0 549.0C1023.3 553.2 1028.2 556.3 1038.3 561.0C1048.4 565.7 1063.8 572.6 1076.5 577.2C1089.2 581.8 1103.6 585.9 1114.8 588.7C1126.0 591.5 1133.5 589.6 1143.5 594.0C1153.5 598.4 1169.8 611.5 1175.0 615.0" fill="none" stroke="#1a1a1a" stroke-width="74" filter="url(#b25)"/>
<path d="M957.5 513.5C960.8 515.2 970.9 519.8 977.0 523.5C983.1 527.2 987.9 531.2 994.4 535.5C1000.9 539.8 1008.7 544.8 1016.0 549.0C1023.3 553.2 1028.2 556.3 1038.3 561.0C1048.4 565.7 1063.8 572.6 1076.5 577.2C1089.2 581.8 1103.6 585.9 1114.8 588.7C1126.0 591.5 1138.7 593.1 1143.5 594.0" fill="none" stroke="#0c0c0c" stroke-width="16" filter="url(#b8)" opacity="0.8"/>
<path d="M975 442 C 1040 466 1100 482 1190 484" fill="none" stroke="#ffffff" stroke-width="40" filter="url(#b18)"/>
<path d="M1040 464 C 1080 476 1130 484 1190 484" fill="none" stroke="#ffffff" stroke-width="20" filter="url(#b12)"/>
<path d="M1021.2 371.9C1024.0 373.1 1029.1 376.1 1038.3 379.2C1047.5 382.3 1063.8 387.5 1076.5 390.7C1089.2 393.9 1102.0 396.0 1114.8 398.4C1127.5 400.8 1141.8 402.9 1153.0 405.0C1164.2 407.1 1176.5 409.4 1181.8 410.8C1187.1 412.2 1184.1 413.2 1184.6 413.7" fill="none" stroke="#9a9a9a" stroke-width="8" filter="url(#b4)"/>
</g>
<path d="M1021.2 371.9C1024.0 373.1 1029.1 376.1 1038.3 379.2C1047.5 382.3 1063.8 387.5 1076.5 390.7C1089.2 393.9 1102.0 396.0 1114.8 398.4C1127.5 400.8 1141.8 402.9 1153.0 405.0C1164.2 407.1 1176.5 409.4 1181.8 410.8C1187.1 412.2 1184.1 413.2 1184.6 413.7" fill="none" stroke="#3c3c3c" stroke-width="1.5"/>
<path d="M1143.5 594.0C1138.7 593.1 1126.0 591.5 1114.8 588.7C1103.6 585.9 1089.2 581.8 1076.5 577.2C1063.8 572.6 1048.4 565.7 1038.3 561.0C1028.2 556.3 1023.3 553.2 1016.0 549.0C1008.7 544.8 1000.9 539.8 994.4 535.5C987.9 531.2 983.1 527.2 977.0 523.5C970.9 519.8 960.8 515.2 957.5 513.5" fill="none" stroke="#222" stroke-width="1.5"/>
<path d="M1021.2 371.9C1018.3 375.6 1009.8 385.6 1004.0 394.0C998.2 402.4 991.8 413.1 986.7 422.6C981.6 432.2 977.1 441.7 973.3 451.3C969.5 460.9 966.3 470.9 963.8 480.0C961.2 489.1 959.0 500.4 958.0 506.0C957.0 511.6 957.6 512.2 957.5 513.5" fill="none" stroke="#333" stroke-width="1.3"/>
<path d="M1100.4 430.9 L1104.3 464.4 L1137.8 444.8" fill="none" stroke="#3a3a3a" stroke-width="2"/>
<g clip-path="url(#cElbow)">
<rect x="1130" y="400" width="300" height="220" fill="#a2a2a2"/>
<path d="M1130.0 615.0C1132.2 611.3 1136.5 595.6 1143.5 593.0C1150.5 590.4 1162.6 597.4 1172.2 599.2C1181.8 601.0 1191.3 602.8 1200.9 603.6C1210.5 604.4 1220.0 604.4 1229.6 604.0C1239.2 603.6 1248.7 602.8 1258.3 601.2C1267.9 599.6 1277.4 597.5 1287.0 594.5C1296.6 591.5 1306.1 587.8 1315.7 583.0C1325.3 578.2 1336.4 571.5 1344.4 565.8C1352.4 560.0 1357.1 554.9 1363.5 548.5C1369.9 542.1 1377.0 534.5 1382.7 527.5C1388.5 520.5 1393.8 512.3 1398.0 506.4C1402.2 500.5 1404.3 498.1 1408.0 492.0C1411.7 485.9 1418.0 473.7 1420.0 470.0" fill="none" stroke="#262626" stroke-width="76" filter="url(#b25)"/>
<path d="M1190 430 C1192 470 1186 500 1172 545" fill="none" stroke="#e4e4e4" stroke-width="36" filter="url(#b18)"/>
<ellipse cx="1322" cy="452" rx="20" ry="13" fill="#dcdcdc" filter="url(#b12)"/>
<path d="M1184.6 413.7C1187.2 414.1 1193.1 414.9 1200.0 416.0C1206.9 417.1 1217.8 418.2 1225.8 420.4C1233.8 422.6 1240.7 426.1 1248.0 429.0C1255.3 431.9 1266.2 436.2 1269.8 437.6" fill="none" stroke="#909090" stroke-width="8" filter="url(#b4)"/>
<path d="M1150 597 L1195 596 L1250 584 L1283 566 L1303 565 L1295 581 L1268 595 L1210 604 Z" fill="#2e2e2e" stroke="#141414" stroke-width="2.4" stroke-linejoin="round"/>
<path d="M1303 565 C1312 563 1320 560 1330 556" fill="none" stroke="#222" stroke-width="1.6"/>
</g>
<path d="M1184.6 413.7C1187.2 414.1 1193.1 414.9 1200.0 416.0C1206.9 417.1 1217.8 418.2 1225.8 420.4C1233.8 422.6 1240.7 426.1 1248.0 429.0C1255.3 431.9 1266.2 436.2 1269.8 437.6L1269.8 437.6C1270.8 436.0 1273.6 430.2 1275.5 428.0C1277.4 425.8 1280.1 424.9 1281.0 424.3L1281.0 424.3C1286.6 424.6 1302.8 423.6 1314.8 426.1C1326.8 428.6 1341.8 434.1 1353.0 439.5C1364.2 444.9 1373.8 451.9 1381.8 458.6C1389.8 465.3 1396.5 474.1 1400.9 479.7C1405.3 485.3 1406.8 489.9 1408.0 492.0L1408.0 492.0C1406.3 494.4 1402.2 500.5 1398.0 506.4C1393.8 512.3 1388.5 520.5 1382.7 527.5C1377.0 534.5 1369.9 542.1 1363.5 548.5C1357.1 554.9 1352.4 560.0 1344.4 565.8C1336.4 571.5 1325.3 578.2 1315.7 583.0C1306.1 587.8 1296.6 591.5 1287.0 594.5C1277.4 597.5 1267.9 599.6 1258.3 601.2C1248.7 602.8 1239.2 603.6 1229.6 604.0C1220.0 604.4 1210.5 604.4 1200.9 603.6C1191.3 602.8 1181.8 601.0 1172.2 599.2C1162.6 597.4 1148.3 594.0 1143.5 593.0L1143.5 593.0C1145.1 587.5 1149.8 570.3 1153.0 560.0C1156.2 549.7 1159.4 542.5 1162.6 531.3C1165.8 520.1 1169.3 505.8 1172.2 493.0C1175.1 480.2 1177.7 468.0 1179.8 454.8C1181.9 441.6 1183.8 420.6 1184.6 413.7Z" fill="none" stroke="#333" stroke-width="1.4"/>
<path d="M1281.0 424.3C1286.6 424.6 1302.8 423.6 1314.8 426.1C1326.8 428.6 1341.8 434.1 1353.0 439.5C1364.2 444.9 1373.8 451.9 1381.8 458.6C1389.8 465.3 1396.5 474.1 1400.9 479.7C1405.3 485.3 1406.8 489.9 1408.0 492.0L1408.0 492.0C1409.0 491.0 1412.8 487.0 1413.8 486.0L1413.8 486.0C1414.3 483.9 1417.3 478.2 1416.6 473.6C1415.9 469.0 1414.3 464.8 1409.6 458.2C1404.9 451.6 1396.7 441.6 1388.5 434.3C1380.3 427.1 1369.8 420.1 1360.5 414.7C1351.2 409.3 1341.8 404.6 1332.4 402.0C1323.1 399.4 1312.6 398.6 1304.4 399.3C1296.2 400.0 1286.8 405.1 1283.3 406.3L1283.3 406.3C1282.9 409.3 1281.4 421.3 1281.0 424.3Z" fill="url(#gCollar)" stroke="#333" stroke-width="1.2"/>
<path d="M1282.0 402.0C1282.7 400.7 1283.7 396.2 1286.0 394.0C1288.3 391.8 1290.6 389.8 1296.0 388.5C1301.4 387.2 1310.0 385.4 1318.4 386.0C1326.8 386.6 1337.1 388.9 1346.4 392.0C1355.8 395.1 1365.1 399.2 1374.5 404.5C1383.9 409.8 1395.3 417.9 1402.6 424.0C1409.8 430.1 1413.6 434.8 1418.0 441.0C1422.4 447.2 1427.1 455.5 1429.0 461.0C1430.9 466.5 1430.5 470.3 1429.5 474.0C1428.5 477.7 1425.6 480.8 1423.0 483.0C1420.4 485.2 1415.3 486.8 1413.8 487.5L1413.8 487.5C1413.8 487.2 1413.8 486.2 1413.8 486.0L1413.8 486.0C1414.3 483.9 1417.3 478.2 1416.6 473.6C1415.9 469.0 1414.3 464.8 1409.6 458.2C1404.9 451.6 1396.7 441.6 1388.5 434.3C1380.3 427.1 1369.8 420.1 1360.5 414.7C1351.2 409.3 1341.8 404.6 1332.4 402.0C1323.1 399.4 1312.6 398.6 1304.4 399.3C1296.2 400.0 1286.8 405.1 1283.3 406.3L1283.3 406.3C1283.1 405.6 1282.2 402.7 1282.0 402.0Z" fill="url(#gFlange)" stroke="#1e1e1e" stroke-width="1"/>
<path d="M1283.3 406.3C1286.8 405.1 1296.2 400.0 1304.4 399.3C1312.6 398.6 1323.1 399.4 1332.4 402.0C1341.8 404.6 1351.2 409.3 1360.5 414.7C1369.8 420.1 1380.3 427.1 1388.5 434.3C1396.7 441.6 1404.9 451.6 1409.6 458.2C1414.3 464.8 1415.9 469.0 1416.6 473.6C1417.3 478.2 1414.3 483.9 1413.8 486.0" fill="none" stroke="#242424" stroke-width="2.4"/>
<path d="M1295.4 389.7C1299.1 389.3 1309.4 386.6 1317.8 387.2C1326.2 387.8 1336.5 390.1 1345.8 393.2C1355.2 396.3 1364.5 400.4 1373.9 405.7C1383.3 411.0 1394.8 419.1 1402.0 425.2C1409.2 431.3 1413.0 436.0 1417.4 442.2C1421.8 448.4 1426.5 456.7 1428.4 462.2C1430.3 467.7 1429.9 471.5 1428.9 475.2C1427.9 478.9 1425.0 481.9 1422.4 484.2C1419.8 486.4 1414.7 487.9 1413.2 488.7" fill="none" stroke="#161616" stroke-width="5.4" stroke-linecap="round"/>
<path d="M1282.0 402.0C1282.7 400.7 1283.7 396.2 1286.0 394.0C1288.3 391.8 1290.6 389.8 1296.0 388.5C1301.4 387.2 1314.7 386.4 1318.4 386.0" fill="none" stroke="#1c1c1c" stroke-width="2.6" stroke-linecap="round"/>
<path d="M1420 456 C1428 462 1431 472 1426 481 L1415 487 Z" fill="#161616"/>
<path d="M1301.5 383.8C1303.1 380.8 1307.5 372.1 1311.0 366.0C1314.5 359.9 1320.7 350.4 1322.6 347.3L1322.6 347.3C1324.9 346.7 1330.3 343.8 1336.6 343.8C1342.9 343.8 1351.8 344.6 1360.5 347.3C1369.2 350.0 1379.2 354.9 1388.5 360.0C1397.8 365.1 1408.4 371.6 1416.6 378.2C1424.8 384.8 1432.4 393.2 1437.6 399.3C1442.8 405.4 1445.7 410.0 1447.5 414.7C1449.3 419.4 1448.1 425.2 1448.2 427.3L1448.2 427.3C1446.8 430.1 1442.9 438.6 1440.0 444.0C1437.1 449.4 1432.2 457.0 1430.6 459.6L1430.6 459.6C1428.5 456.3 1422.7 446.1 1418.0 440.0C1413.3 433.9 1409.8 429.2 1402.6 423.1C1395.3 417.0 1383.9 408.9 1374.5 403.5C1365.1 398.1 1355.8 394.0 1346.4 390.8C1337.1 387.6 1325.9 385.7 1318.4 384.5C1310.9 383.3 1304.3 383.9 1301.5 383.8Z" fill="url(#gClamp)" stroke="#5a6274" stroke-width="1.2"/>
<path d="M1317.9 385.5C1322.6 386.6 1336.6 388.6 1345.9 391.8C1355.2 395.0 1364.6 399.1 1374.0 404.5C1383.4 409.9 1394.8 418.0 1402.1 424.1C1409.3 430.2 1412.8 434.9 1417.5 441.0C1422.2 447.1 1428.0 457.3 1430.1 460.6" fill="none" stroke="#ffffff" stroke-width="2.2"/>
<path d="M1328.5 350.0C1333.2 350.6 1348.4 351.4 1356.7 353.3C1365.0 355.2 1371.2 358.0 1378.4 361.4C1385.6 364.8 1394.9 370.1 1400.1 373.4C1405.3 376.7 1408.2 379.7 1409.8 381.0" fill="none" stroke="#2e3138" stroke-width="5.6" opacity="0.92"/>
<path d="M1328.9 348.8C1333.6 349.4 1348.8 350.2 1357.1 352.1C1365.4 354.0 1371.6 356.9 1378.8 360.2C1386.0 363.5 1395.3 368.9 1400.5 372.2C1405.7 375.5 1408.6 378.5 1410.2 379.8" fill="none" stroke="#8088a0" stroke-width="0.9" opacity="0.9"/>
<path d="M1323.1 357.6C1326.9 358.0 1338.5 358.2 1345.9 359.8C1353.3 361.4 1360.4 364.4 1367.6 367.4C1374.8 370.4 1382.7 374.2 1389.2 377.7C1395.7 381.2 1403.7 386.7 1406.6 388.5" fill="none" stroke="#2e3138" stroke-width="5.6" opacity="0.92"/>
<path d="M1323.5 356.4C1327.3 356.8 1338.9 357.0 1346.3 358.6C1353.7 360.2 1360.8 363.2 1368.0 366.2C1375.2 369.2 1383.1 373.0 1389.6 376.5C1396.1 380.0 1404.1 385.5 1407.0 387.3" fill="none" stroke="#8088a0" stroke-width="0.9" opacity="0.9"/>
<path d="M1408 381.5 L1404.5 390" stroke="#2e3138" stroke-width="3" opacity="0.85"/>
<path d="M1440.5 421.5 L1441 427" stroke="#3a4050" stroke-width="2.4" stroke-linecap="round" opacity="0.8"/>
<path d="M1305.0 381.0C1307.5 381.1 1313.2 380.4 1320.0 381.5C1326.8 382.6 1337.0 384.4 1346.0 387.5C1355.0 390.6 1364.8 394.7 1374.0 400.0C1383.2 405.3 1394.0 413.3 1401.0 419.5C1408.0 425.7 1413.5 434.1 1416.0 437.0" fill="none" stroke="#8a93a8" stroke-width="1.4"/>
<path d="M1198 376 L1240 390 L1226.5 420.5 C1215 424 1196 421 1183 408.5 Z" fill="url(#gStem)" stroke="#333" stroke-width="1.2"/>
<g transform="translate(0.0 0.0)"><path d="M1235 324.8 L1241.2 310.3 C1243 307.5 1246 306.5 1248 306.9 L1258 308.8 C1263 310.5 1267 313 1269.5 315.7 C1274 319.5 1277 323 1277.1 325.6 L1276.7 329.4 L1269.5 342 L1240 334 Z" fill="#181818"/><path d="M1259 313.5 L1253.5 327" stroke="#262626" stroke-width="10" stroke-linecap="butt"/><path d="M1259 313.5 L1253.5 327" stroke="#303030" stroke-width="5" stroke-linecap="butt"/><path d="M1203.7 314.1 C1201 314.5 1200 316 1199.8 318 L1185.3 344 L1186.5 348.6 L1190.7 363.9 L1195.2 379.2 L1237.3 403.6 L1254.2 402.9 L1259.5 399 L1275.6 368.5 L1272.5 347 L1268.7 341.7 L1235 324.8 L1213 315.3 Z" fill="#0b0b0b"/><path d="M1203.7 314.1 L1213 315.3 L1235 324.8 L1268.7 341.7 L1264 344.5 L1253.4 342.8 L1210.6 324.5 L1200.5 320 Z" fill="#171717"/><path d="M1237.3 324.6 C1246 327 1258 332 1265.6 338.2" fill="none" stroke="#050505" stroke-width="2.6"/><path d="M1210.6 324.5 L1253.4 342.8 L1245 361.6 L1200.6 340.9 Z" fill="#474747"/><path d="M1253.4 342.8 L1264 344.5 L1268 349 L1258 364 L1245 361.6 Z" fill="#242424"/><path d="M1254.5 345 L1247 360.5" stroke="#444" stroke-width="2.2"/><path d="M1200.6 340.9 L1245 361.6 L1258 364 L1252 376 L1241.2 373 L1195.2 356.2 Z" fill="#191919"/><path d="M1187 346 L1200.6 340.9 L1195.2 356.2 L1190 360 Z" fill="#141414"/></g>
<path d="M489 613 L413.4 734 L413.4 810.6" fill="none" stroke="#2e2e2e" stroke-width="2.8"/>
<path d="M1029 576 L956.8 679 L956.8 741.2" fill="none" stroke="#2e2e2e" stroke-width="2.8"/>
</g>
<g id="orange">
<g clip-path="url(#cOrange)">
<rect x="1500" y="430" width="900" height="1000" fill="#fc9679"/>
<path d="M1585.0 508.0C1584.2 511.2 1582.8 520.9 1580.0 527.0C1577.2 533.1 1572.1 538.6 1568.5 544.8C1564.9 550.9 1561.5 557.5 1558.3 563.9C1555.1 570.3 1551.6 576.6 1549.3 583.0C1547.0 589.4 1545.6 596.5 1544.2 602.2C1542.8 607.9 1541.4 610.1 1541.1 617.4C1540.8 624.7 1541.0 636.5 1542.1 646.1C1543.2 655.7 1545.2 666.2 1547.8 674.8C1550.3 683.4 1553.2 690.1 1557.4 697.8C1561.6 705.4 1567.0 713.4 1572.7 720.7C1578.4 728.0 1584.8 735.1 1591.8 741.8C1598.8 748.5 1606.2 753.9 1614.8 760.9C1623.4 767.9 1633.9 776.2 1643.5 783.9C1653.1 791.5 1662.6 799.5 1672.2 806.8C1681.8 814.1 1690.5 819.9 1700.9 827.9C1711.3 835.9 1723.5 847.3 1734.4 855.0C1745.4 862.7 1755.9 869.9 1766.6 874.2C1777.3 878.5 1790.7 878.3 1798.7 881.0C1806.7 883.7 1809.8 886.5 1814.8 890.3C1819.8 894.1 1824.0 898.3 1828.6 904.0C1833.2 909.7 1837.7 917.0 1842.3 924.7C1846.9 932.4 1851.4 941.1 1856.1 950.0C1860.8 958.9 1864.7 965.3 1870.3 978.0C1875.9 990.7 1883.1 1012.5 1889.8 1026.3C1896.5 1040.1 1903.6 1050.0 1910.5 1060.7C1917.4 1071.4 1925.5 1081.0 1931.2 1090.6C1937.0 1100.2 1940.8 1108.5 1945.0 1118.1C1949.2 1127.7 1953.0 1138.0 1956.4 1148.0C1959.8 1158.0 1962.5 1166.6 1965.6 1177.8C1968.7 1189.0 1971.1 1200.0 1974.9 1215.0C1978.7 1230.0 1983.8 1253.3 1988.3 1267.8C1992.8 1282.3 1996.9 1291.4 2001.7 1302.2C2006.5 1313.0 2012.2 1323.9 2017.0 1332.8C2021.8 1341.7 2026.3 1348.8 2030.4 1355.8C2034.5 1362.8 2038.6 1369.5 2041.8 1374.9C2045.0 1380.3 2048.2 1386.1 2049.5 1388.3" fill="none" stroke="#8a3a28" stroke-width="58" filter="url(#b18)" opacity="0.9"/>
<path d="M1585.0 508.0C1584.2 511.2 1582.8 520.9 1580.0 527.0C1577.2 533.1 1572.1 538.6 1568.5 544.8C1564.9 550.9 1561.5 557.5 1558.3 563.9C1555.1 570.3 1551.6 576.6 1549.3 583.0C1547.0 589.4 1545.6 596.5 1544.2 602.2C1542.8 607.9 1541.4 610.1 1541.1 617.4C1540.8 624.7 1541.0 636.5 1542.1 646.1C1543.2 655.7 1545.2 666.2 1547.8 674.8C1550.3 683.4 1553.2 690.1 1557.4 697.8C1561.6 705.4 1567.0 713.4 1572.7 720.7C1578.4 728.0 1584.8 735.1 1591.8 741.8C1598.8 748.5 1606.2 753.9 1614.8 760.9C1623.4 767.9 1633.9 776.2 1643.5 783.9C1653.1 791.5 1662.6 799.5 1672.2 806.8C1681.8 814.1 1690.5 819.9 1700.9 827.9C1711.3 835.9 1723.5 847.3 1734.4 855.0C1745.4 862.7 1755.9 869.9 1766.6 874.2C1777.3 878.5 1790.7 878.3 1798.7 881.0C1806.7 883.7 1809.8 886.5 1814.8 890.3C1819.8 894.1 1824.0 898.3 1828.6 904.0C1833.2 909.7 1837.7 917.0 1842.3 924.7C1846.9 932.4 1851.4 941.1 1856.1 950.0C1860.8 958.9 1864.7 965.3 1870.3 978.0C1875.9 990.7 1883.1 1012.5 1889.8 1026.3C1896.5 1040.1 1903.6 1050.0 1910.5 1060.7C1917.4 1071.4 1925.5 1081.0 1931.2 1090.6C1937.0 1100.2 1940.8 1108.5 1945.0 1118.1C1949.2 1127.7 1953.0 1138.0 1956.4 1148.0C1959.8 1158.0 1962.5 1166.6 1965.6 1177.8C1968.7 1189.0 1971.1 1200.0 1974.9 1215.0C1978.7 1230.0 1983.8 1253.3 1988.3 1267.8C1992.8 1282.3 1996.9 1291.4 2001.7 1302.2C2006.5 1313.0 2012.2 1323.9 2017.0 1332.8C2021.8 1341.7 2026.3 1348.8 2030.4 1355.8C2034.5 1362.8 2038.6 1369.5 2041.8 1374.9C2045.0 1380.3 2048.2 1386.1 2049.5 1388.3" fill="none" stroke="#5a2014" stroke-width="10" filter="url(#b6)" opacity="0.85"/>
<path d="M1931.2 1090.6C1933.5 1095.2 1940.8 1108.5 1945.0 1118.1C1949.2 1127.7 1953.0 1138.0 1956.4 1148.0C1959.8 1158.0 1962.5 1166.6 1965.6 1177.8C1968.7 1189.0 1971.1 1200.0 1974.9 1215.0C1978.7 1230.0 1983.8 1253.3 1988.3 1267.8C1992.8 1282.3 1996.9 1291.4 2001.7 1302.2C2006.5 1313.0 2012.2 1323.9 2017.0 1332.8C2021.8 1341.7 2026.3 1348.8 2030.4 1355.8C2034.5 1362.8 2038.6 1369.5 2041.8 1374.9C2045.0 1380.3 2048.2 1386.1 2049.5 1388.3" fill="none" stroke="#a8523e" stroke-width="90" filter="url(#b25)" opacity="0.55"/>
<path d="M2375.0 1158.2C2374.5 1156.8 2374.8 1155.2 2372.0 1150.0C2369.2 1144.8 2363.9 1135.7 2358.2 1127.3C2352.4 1118.9 2345.9 1108.9 2337.5 1099.7C2329.1 1090.5 2318.4 1081.0 2307.7 1072.2C2297.0 1063.4 2286.7 1055.8 2273.3 1047.0C2259.9 1038.2 2242.6 1028.6 2227.3 1019.4C2212.0 1010.2 2194.4 1000.2 2181.4 991.8C2168.4 983.4 2157.7 976.0 2149.3 968.9C2140.9 961.8 2137.0 957.2 2130.9 949.4C2124.8 941.5 2119.4 931.6 2112.6 921.8C2105.8 911.9 2097.9 901.3 2090.3 890.3C2082.8 879.3 2075.0 867.3 2067.3 855.8C2059.7 844.3 2052.1 832.5 2044.4 821.4C2036.8 810.3 2029.1 799.2 2021.4 789.2C2013.8 779.2 2006.2 770.1 1998.5 761.7C1990.8 753.3 1983.2 746.0 1975.5 738.7C1967.8 731.4 1960.2 724.1 1952.5 718.0C1944.8 711.9 1937.2 706.6 1929.6 702.0C1921.9 697.4 1914.2 694.3 1906.6 690.5C1898.9 686.7 1889.0 682.2 1883.7 679.0C1878.4 675.8 1877.9 673.0 1874.5 671.0C1871.1 669.0 1869.8 669.3 1863.5 667.1C1857.2 664.9 1846.3 661.1 1836.7 657.6C1827.1 654.1 1816.0 649.9 1806.1 646.1C1796.2 642.3 1787.0 638.8 1777.4 634.6C1767.8 630.5 1757.8 625.7 1748.7 621.2C1739.6 616.7 1727.2 610.0 1722.9 607.8" fill="none" stroke="#d06a52" stroke-width="12" filter="url(#b6)" opacity="0.7"/>
<path d="M1672.0 694.0C1681.6 699.7 1712.0 718.2 1729.6 728.4C1747.2 738.6 1764.0 748.9 1777.4 755.0C1790.8 761.1 1799.1 761.3 1810.0 765.0C1820.9 768.7 1832.5 771.2 1843.0 777.0C1853.5 782.8 1864.2 792.2 1873.0 800.0C1881.8 807.8 1887.4 812.9 1896.0 823.7C1904.6 834.5 1915.8 851.6 1924.5 865.0C1933.2 878.4 1940.7 890.7 1948.0 904.0C1955.3 917.3 1962.8 933.5 1968.5 945.0C1974.2 956.5 1977.9 964.1 1982.0 972.9C1986.1 981.7 1991.2 993.8 1993.0 998.0" fill="none" stroke="#ffd2ba" stroke-width="84" stroke-linecap="round" filter="url(#b18)" opacity="0.85"/>
<path d="M1672.0 694.0C1681.6 699.7 1712.0 718.2 1729.6 728.4C1747.2 738.6 1764.0 748.9 1777.4 755.0C1790.8 761.1 1799.1 761.3 1810.0 765.0C1820.9 768.7 1832.5 771.2 1843.0 777.0C1853.5 782.8 1864.2 792.2 1873.0 800.0C1881.8 807.8 1887.4 812.9 1896.0 823.7C1904.6 834.5 1915.8 851.6 1924.5 865.0C1933.2 878.4 1940.7 890.7 1948.0 904.0C1955.3 917.3 1962.8 933.5 1968.5 945.0C1974.2 956.5 1977.9 964.1 1982.0 972.9C1986.1 981.7 1991.2 993.8 1993.0 998.0" fill="none" stroke="#fffbe6" stroke-width="56" stroke-linecap="round" filter="url(#b10)"/>
<path d="M1672.0 694.0C1681.6 699.7 1712.0 718.2 1729.6 728.4C1747.2 738.6 1764.0 748.9 1777.4 755.0C1790.8 761.1 1799.1 761.3 1810.0 765.0C1820.9 768.7 1832.5 771.2 1843.0 777.0C1853.5 782.8 1864.2 792.2 1873.0 800.0C1881.8 807.8 1887.4 812.9 1896.0 823.7C1904.6 834.5 1915.8 851.6 1924.5 865.0C1933.2 878.4 1940.7 890.7 1948.0 904.0C1955.3 917.3 1962.8 933.5 1968.5 945.0C1974.2 956.5 1979.8 968.2 1982.0 972.9" fill="none" stroke="#fffff4" stroke-width="26" stroke-linecap="round" filter="url(#b8)"/>
<path d="M1722 616 L1790 646 L1850 668" fill="none" stroke="#ffdcc6" stroke-width="11" filter="url(#b6)" opacity="0.9"/>
<path d="M1660 640 L1720 680 L1790 726" fill="none" stroke="#ffe2ce" stroke-width="12" filter="url(#b6)" opacity="0.9"/>
<path d="M1890 700 C1930 716 1965 748 1990 780" fill="none" stroke="#ffc4ac" stroke-width="12" filter="url(#b8)" opacity="0.8"/>
<ellipse cx="1634" cy="550" rx="24" ry="8" transform="rotate(30 1634 550)" fill="#ffd6c0" filter="url(#b8)"/>
<ellipse cx="1664" cy="531" rx="22" ry="7" transform="rotate(30 1664 531)" fill="#ffccb2" filter="url(#b6)"/>
<ellipse cx="2130" cy="1130" rx="150" ry="110" transform="rotate(35 2130 1130)" fill="#ffa88a" filter="url(#b35)" opacity="0.7"/>
<ellipse cx="2028" cy="1036" rx="30" ry="22" transform="rotate(-35 2028 1036)" fill="#fffdea" filter="url(#b12)"/>
<ellipse cx="2028" cy="1037" rx="17" ry="11" transform="rotate(-35 2028 1037)" fill="#fffff2" filter="url(#b6)"/>
<ellipse cx="2028" cy="1036" rx="50" ry="36" transform="rotate(-35 2028 1036)" fill="#ffd8c0" filter="url(#b25)"/>
<ellipse cx="2177" cy="1209" rx="52" ry="42" fill="#ffe2cc" filter="url(#b18)"/>
<ellipse cx="2177" cy="1209" rx="30" ry="24" fill="#fffdea" filter="url(#b10)"/>
<ellipse cx="2250" cy="1085" rx="60" ry="34" transform="rotate(35 2250 1085)" fill="#ffc6ae" filter="url(#b25)" opacity="0.9"/>
<path d="M2371.0 1158.0C2367.0 1160.4 2355.0 1167.3 2346.8 1172.3C2338.6 1177.3 2331.6 1181.6 2321.9 1188.1C2312.2 1194.6 2299.9 1203.6 2288.8 1211.3C2277.8 1219.0 2266.7 1226.6 2255.6 1234.5C2244.5 1242.4 2233.4 1250.6 2222.4 1258.6C2211.4 1266.6 2200.4 1274.7 2189.3 1282.6C2178.2 1290.5 2167.2 1298.1 2156.1 1305.8C2145.0 1313.5 2133.9 1321.0 2122.9 1329.0C2111.9 1337.0 2098.9 1346.7 2089.8 1353.9C2080.7 1361.1 2073.2 1367.7 2068.2 1372.2C2063.2 1376.7 2061.4 1379.5 2060.0 1381.0L2060.0 1381.0C2058.2 1382.2 2051.2 1387.1 2049.5 1388.3L2049.5 1388.3C2051.2 1388.0 2055.5 1388.1 2060.0 1386.5C2064.5 1384.9 2068.8 1383.4 2076.5 1378.8C2084.2 1374.2 2095.8 1366.1 2106.3 1358.9C2116.8 1351.7 2128.4 1343.2 2139.5 1335.7C2150.6 1328.2 2161.6 1321.3 2172.7 1314.1C2183.8 1306.9 2194.8 1300.0 2205.8 1292.6C2216.9 1285.1 2227.9 1277.4 2239.0 1269.4C2250.1 1261.4 2261.1 1252.8 2272.2 1244.5C2283.2 1236.2 2294.2 1227.9 2305.3 1219.6C2316.4 1211.3 2330.2 1201.0 2338.5 1194.7C2346.8 1188.4 2350.1 1185.9 2355.1 1181.5C2360.1 1177.1 2365.1 1172.1 2368.4 1168.2C2371.7 1164.3 2373.9 1159.9 2375.0 1158.2L2375.0 1158.2C2374.3 1158.2 2371.7 1158.0 2371.0 1158.0Z" fill="#f9a88e"/>
<path d="M2145 1322 L2255 1245" stroke="#fffbe8" stroke-width="24" filter="url(#b8)"/>
</g>
<path d="M1585.0 508.0C1584.2 511.2 1582.8 520.9 1580.0 527.0C1577.2 533.1 1572.1 538.6 1568.5 544.8C1564.9 550.9 1561.5 557.5 1558.3 563.9C1555.1 570.3 1551.6 576.6 1549.3 583.0C1547.0 589.4 1545.6 596.5 1544.2 602.2C1542.8 607.9 1541.4 610.1 1541.1 617.4C1540.8 624.7 1541.0 636.5 1542.1 646.1C1543.2 655.7 1545.2 666.2 1547.8 674.8C1550.3 683.4 1553.2 690.1 1557.4 697.8C1561.6 705.4 1567.0 713.4 1572.7 720.7C1578.4 728.0 1584.8 735.1 1591.8 741.8C1598.8 748.5 1606.2 753.9 1614.8 760.9C1623.4 767.9 1633.9 776.2 1643.5 783.9C1653.1 791.5 1662.6 799.5 1672.2 806.8C1681.8 814.1 1690.5 819.9 1700.9 827.9C1711.3 835.9 1723.5 847.3 1734.4 855.0C1745.4 862.7 1755.9 869.9 1766.6 874.2C1777.3 878.5 1790.7 878.3 1798.7 881.0C1806.7 883.7 1809.8 886.5 1814.8 890.3C1819.8 894.1 1824.0 898.3 1828.6 904.0C1833.2 909.7 1837.7 917.0 1842.3 924.7C1846.9 932.4 1851.4 941.1 1856.1 950.0C1860.8 958.9 1864.7 965.3 1870.3 978.0C1875.9 990.7 1883.1 1012.5 1889.8 1026.3C1896.5 1040.1 1903.6 1050.0 1910.5 1060.7C1917.4 1071.4 1925.5 1081.0 1931.2 1090.6C1937.0 1100.2 1940.8 1108.5 1945.0 1118.1C1949.2 1127.7 1953.0 1138.0 1956.4 1148.0C1959.8 1158.0 1962.5 1166.6 1965.6 1177.8C1968.7 1189.0 1971.1 1200.0 1974.9 1215.0C1978.7 1230.0 1983.8 1253.3 1988.3 1267.8C1992.8 1282.3 1996.9 1291.4 2001.7 1302.2C2006.5 1313.0 2012.2 1323.9 2017.0 1332.8C2021.8 1341.7 2026.3 1348.8 2030.4 1355.8C2034.5 1362.8 2038.6 1369.5 2041.8 1374.9C2045.0 1380.3 2048.2 1386.1 2049.5 1388.3L2049.5 1388.3C2051.2 1388.0 2055.5 1388.1 2060.0 1386.5C2064.5 1384.9 2068.8 1383.4 2076.5 1378.8C2084.2 1374.2 2095.8 1366.1 2106.3 1358.9C2116.8 1351.7 2128.4 1343.2 2139.5 1335.7C2150.6 1328.2 2161.6 1321.3 2172.7 1314.1C2183.8 1306.9 2194.8 1300.0 2205.8 1292.6C2216.9 1285.1 2227.9 1277.4 2239.0 1269.4C2250.1 1261.4 2261.1 1252.8 2272.2 1244.5C2283.2 1236.2 2294.2 1227.9 2305.3 1219.6C2316.4 1211.3 2330.2 1201.0 2338.5 1194.7C2346.8 1188.4 2350.1 1185.9 2355.1 1181.5C2360.1 1177.1 2365.1 1172.1 2368.4 1168.2C2371.7 1164.3 2373.9 1159.9 2375.0 1158.2L2375.0 1158.2C2374.5 1156.8 2374.8 1155.2 2372.0 1150.0C2369.2 1144.8 2363.9 1135.7 2358.2 1127.3C2352.4 1118.9 2345.9 1108.9 2337.5 1099.7C2329.1 1090.5 2318.4 1081.0 2307.7 1072.2C2297.0 1063.4 2286.7 1055.8 2273.3 1047.0C2259.9 1038.2 2242.6 1028.6 2227.3 1019.4C2212.0 1010.2 2194.4 1000.2 2181.4 991.8C2168.4 983.4 2157.7 976.0 2149.3 968.9C2140.9 961.8 2137.0 957.2 2130.9 949.4C2124.8 941.5 2119.4 931.6 2112.6 921.8C2105.8 911.9 2097.9 901.3 2090.3 890.3C2082.8 879.3 2075.0 867.3 2067.3 855.8C2059.7 844.3 2052.1 832.5 2044.4 821.4C2036.8 810.3 2029.1 799.2 2021.4 789.2C2013.8 779.2 2006.2 770.1 1998.5 761.7C1990.8 753.3 1983.2 746.0 1975.5 738.7C1967.8 731.4 1960.2 724.1 1952.5 718.0C1944.8 711.9 1937.2 706.6 1929.6 702.0C1921.9 697.4 1914.2 694.3 1906.6 690.5C1898.9 686.7 1889.0 682.2 1883.7 679.0C1878.4 675.8 1877.9 673.0 1874.5 671.0C1871.1 669.0 1869.8 669.3 1863.5 667.1C1857.2 664.9 1846.3 661.1 1836.7 657.6C1827.1 654.1 1816.0 649.9 1806.1 646.1C1796.2 642.3 1787.0 638.8 1777.4 634.6C1767.8 630.5 1757.8 625.7 1748.7 621.2C1739.6 616.7 1727.2 610.0 1722.9 607.8L1722.9 607.8C1721.8 606.2 1717.8 606.0 1716.0 598.0C1714.2 590.0 1714.0 572.7 1712.0 560.0C1710.0 547.3 1707.5 529.4 1704.0 522.0C1700.5 514.6 1693.1 516.6 1690.9 515.5L1690.9 515.5C1687.9 513.1 1680.2 505.6 1673.0 501.4C1665.8 497.1 1656.1 492.8 1647.6 490.0C1639.1 487.2 1629.5 485.7 1622.0 484.8C1614.5 483.9 1608.6 483.7 1602.9 484.8C1597.2 485.9 1590.8 488.4 1587.6 491.2C1584.4 494.0 1584.2 498.6 1583.8 501.4C1583.4 504.2 1584.8 506.9 1585.0 508.0Z" fill="none" stroke="#4a1e14" stroke-width="1.6"/>
<path d="M1678.1 600.4C1674.5 602.9 1663.2 609.6 1656.3 615.3C1649.4 621.0 1642.5 628.1 1636.8 634.8C1631.0 641.5 1626.2 648.8 1621.8 655.5C1617.4 662.2 1613.8 667.9 1610.4 675.0C1607.0 682.1 1603.8 690.1 1601.2 698.0C1598.6 705.9 1595.3 715.3 1594.7 722.6C1594.1 729.9 1596.2 736.7 1597.6 741.8C1599.0 746.9 1602.3 751.3 1603.3 753.2" fill="none" stroke="#1c0c06" stroke-width="1.35"/>
<path d="M1636.8 636.5C1644.0 641.8 1664.5 656.9 1680.0 668.0C1695.5 679.1 1713.6 691.8 1730.0 703.0C1746.4 714.2 1770.3 729.7 1778.4 735.0" fill="none" stroke="#1c0c06" stroke-width="1.35"/>
<path d="M1838.6 657.6C1834.8 662.1 1824.3 673.6 1815.7 684.4C1807.1 695.2 1795.0 709.9 1787.0 722.6C1779.0 735.4 1774.3 747.2 1767.9 760.9C1761.5 774.6 1754.1 789.5 1748.7 804.9C1743.3 820.2 1737.5 845.0 1735.3 853.0" fill="none" stroke="#1c0c06" stroke-width="1.35"/>
<path d="M1899.0 690.1C1894.7 694.9 1882.1 707.0 1873.0 718.8C1863.9 730.6 1852.4 747.5 1844.4 760.9C1836.4 774.3 1831.3 784.4 1825.2 799.2C1819.1 814.1 1812.2 836.4 1808.0 850.0C1803.8 863.6 1801.2 875.8 1799.9 881.0" fill="none" stroke="#1c0c06" stroke-width="1.35"/>
<path d="M2111.4 921.8C2102.8 928.7 2076.9 950.0 2060.0 963.0C2043.1 976.0 2026.7 988.5 2010.0 1000.0C1993.3 1011.5 1976.4 1021.9 1960.0 1032.0C1943.6 1042.1 1919.8 1055.9 1911.7 1060.7" fill="none" stroke="#1c0c06" stroke-width="1.35"/>
<path d="M2130.9 949.4C2122.4 956.2 2096.8 976.9 2080.0 990.0C2063.2 1003.1 2046.7 1016.2 2030.0 1028.0C2013.3 1039.8 1996.4 1050.7 1980.0 1061.0C1963.6 1071.3 1939.7 1085.2 1931.6 1090.1" fill="none" stroke="#1c0c06" stroke-width="1.35"/>
<path d="M2351.3 1126.1C2349.2 1127.2 2347.6 1127.8 2338.4 1133.0C2329.2 1138.2 2311.6 1148.1 2296.2 1157.1C2280.8 1166.1 2265.8 1174.1 2245.7 1187.0C2225.6 1199.9 2199.6 1216.9 2175.8 1234.5C2152.0 1252.1 2122.8 1276.2 2103.0 1292.6C2083.2 1309.0 2069.1 1322.3 2057.0 1332.8C2044.9 1343.3 2034.8 1352.0 2030.4 1355.8" fill="none" stroke="#3a1a10" stroke-width="1.25"/>
<path d="M1875.0 672.9C1871.5 676.4 1862.3 684.1 1854.0 694.0C1845.7 703.9 1833.8 719.5 1825.2 732.2C1816.6 745.0 1809.3 757.1 1802.3 770.5C1795.3 783.9 1788.8 795.2 1783.2 812.6C1777.7 830.0 1771.4 864.6 1769.0 875.0" fill="none" stroke="#7a3420" stroke-width="8"/>
<path d="M1875.0 672.9C1871.5 676.4 1862.3 684.1 1854.0 694.0C1845.7 703.9 1833.8 719.5 1825.2 732.2C1816.6 745.0 1809.3 757.1 1802.3 770.5C1795.3 783.9 1788.8 795.2 1783.2 812.6C1777.7 830.0 1771.4 864.6 1769.0 875.0" fill="none" stroke="#f4a890" stroke-width="5.4"/>
<path d="M1875.0 672.9C1871.5 676.4 1862.3 684.1 1854.0 694.0C1845.7 703.9 1833.8 719.5 1825.2 732.2C1816.6 745.0 1809.3 757.1 1802.3 770.5C1795.3 783.9 1788.8 795.2 1783.2 812.6C1777.7 830.0 1771.4 864.6 1769.0 875.0" fill="none" stroke="#80381f" stroke-width="1.5"/>
<path d="M2371.0 1158.0C2367.0 1160.4 2355.0 1167.3 2346.8 1172.3C2338.6 1177.3 2331.6 1181.6 2321.9 1188.1C2312.2 1194.6 2299.9 1203.6 2288.8 1211.3C2277.8 1219.0 2266.7 1226.6 2255.6 1234.5C2244.5 1242.4 2233.4 1250.6 2222.4 1258.6C2211.4 1266.6 2200.4 1274.7 2189.3 1282.6C2178.2 1290.5 2167.2 1298.1 2156.1 1305.8C2145.0 1313.5 2133.9 1321.0 2122.9 1329.0C2111.9 1337.0 2098.9 1346.7 2089.8 1353.9C2080.7 1361.1 2073.2 1367.7 2068.2 1372.2C2063.2 1376.7 2061.4 1379.5 2060.0 1381.0" fill="none" stroke="#5a2418" stroke-width="2.8"/>
<path d="M2075.9 1377.9C2080.9 1374.6 2095.2 1365.2 2105.7 1358.0C2116.2 1350.8 2127.8 1342.3 2138.9 1334.8C2150.0 1327.3 2161.0 1320.4 2172.1 1313.2C2183.2 1306.0 2194.2 1299.1 2205.2 1291.7C2216.3 1284.2 2227.3 1276.5 2238.4 1268.5C2249.5 1260.5 2260.5 1251.9 2271.6 1243.6C2282.7 1235.3 2293.7 1227.0 2304.7 1218.7C2315.8 1210.4 2329.6 1200.1 2337.9 1193.8C2346.2 1187.5 2349.5 1185.0 2354.5 1180.6C2359.5 1176.2 2364.5 1171.2 2367.8 1167.3C2371.1 1163.4 2373.3 1159.0 2374.4 1157.3" fill="none" stroke="#4a2014" stroke-width="2.6" stroke-dasharray="2.2 1.4"/>
<circle cx="2245.6" cy="1186.6" r="3" fill="#e88068" stroke="#5a2418" stroke-width="1"/>
<circle cx="2175.8" cy="1234.6" r="3" fill="#e88068" stroke="#5a2418" stroke-width="1"/>
<path d="M1542.6 650.9C1543.0 646.3 1543.2 632.7 1544.9 623.3C1546.6 613.9 1549.2 604.2 1553.0 594.6C1556.8 585.0 1563.1 573.5 1567.9 565.9C1572.7 558.2 1577.5 552.7 1581.7 548.7C1585.9 544.7 1589.5 542.4 1593.1 541.8C1596.7 541.2 1600.6 543.4 1603.5 545.3C1606.4 547.2 1608.4 550.4 1610.4 553.3C1612.4 556.2 1614.7 561.0 1615.5 562.5" fill="none" stroke="#3a160e" stroke-width="1.3"/>
<path d="M1549.5 649.7C1549.7 645.3 1549.2 631.5 1550.7 623.3C1552.2 615.1 1555.5 608.0 1558.7 600.4C1562.0 592.8 1566.0 585.1 1570.2 577.4C1574.4 569.7 1580.0 559.7 1584.0 554.4C1588.0 549.1 1591.8 545.8 1594.3 545.8C1596.8 545.8 1597.6 551.4 1598.9 554.4C1600.2 557.4 1601.7 562.1 1602.3 563.6" fill="none" stroke="#3a160e" stroke-width="1.2"/>
<path d="M1589.7 570.5C1591.8 571.1 1594.3 573.9 1594.3 577.4C1594.3 580.9 1592.4 585.5 1589.7 591.2C1587.0 596.9 1582.4 604.5 1578.2 611.8C1574.0 619.1 1568.2 628.7 1564.4 634.8C1560.6 640.9 1557.6 646.2 1555.3 648.6C1553.0 651.0 1550.9 653.2 1550.5 649.0C1550.1 644.8 1551.1 631.4 1553.0 623.3C1554.9 615.2 1558.7 607.3 1562.1 600.4C1565.5 593.5 1570.3 586.4 1573.6 582.0C1576.9 577.6 1579.0 575.9 1581.7 574.0C1584.4 572.1 1587.6 569.9 1589.7 570.5Z" fill="none" stroke="#3a160e" stroke-width="1.7"/>
<path d="M1584.0 576.3C1585.9 576.1 1588.2 579.9 1587.4 584.3C1586.6 588.7 1582.7 596.2 1579.4 602.7C1576.2 609.2 1571.7 616.4 1567.9 623.3C1564.1 630.2 1558.3 644.0 1556.4 644.0C1554.5 644.0 1554.9 630.2 1556.4 623.3C1557.9 616.4 1562.3 609.0 1565.6 602.7C1568.8 596.4 1572.8 589.8 1575.9 585.4C1579.0 581.0 1582.1 576.5 1584.0 576.3Z" fill="none" stroke="#3a160e" stroke-width="1.1"/>
<path d="M1579.4 525.7C1582.0 525.3 1589.8 523.5 1595.0 523.5C1600.2 523.5 1604.0 523.8 1610.4 525.7C1616.8 527.6 1625.7 531.1 1633.3 534.9C1640.9 538.7 1648.6 543.9 1656.3 548.7C1664.0 553.5 1673.8 560.0 1679.3 563.6C1684.8 567.2 1687.4 569.4 1689.0 570.5" fill="none" stroke="#3a1810" stroke-width="1.3"/>
<path d="M1655.1 569.9 L1678.1 580.8" fill="none" stroke="#3a1810" stroke-width="1.3"/>
<path d="M1703 548 L1744 568 L1722.8 607.3 C1708 608 1690 603 1680 594 C1677 590 1679 584 1682 580.5 Z" fill="url(#gOStem)" stroke="#3a1810" stroke-width="1.2"/>
<path d="M1584.6 499.0C1585.0 497.6 1585.3 492.5 1587.2 490.3C1589.1 488.1 1593.2 486.9 1595.8 486.0C1598.4 485.1 1598.4 485.2 1602.7 485.1C1607.0 485.0 1615.7 484.4 1621.7 485.1C1627.7 485.8 1633.2 487.4 1638.9 489.4C1644.6 491.4 1650.4 494.3 1656.1 497.2C1661.8 500.1 1667.6 503.5 1673.3 506.6C1679.0 509.8 1687.6 514.5 1690.5 516.1L1690.5 516.1C1691.1 519.2 1693.4 531.9 1694.0 535.0L1694.0 535.0C1692.0 533.7 1688.2 531.0 1681.9 527.3C1675.6 523.6 1664.7 516.9 1656.1 512.7C1647.5 508.5 1638.9 504.8 1630.3 502.3C1621.7 499.9 1611.6 498.1 1604.4 498.0C1597.2 497.9 1590.1 500.9 1587.2 501.5L1587.2 501.5C1586.8 501.9 1585.0 504.4 1584.6 504.0C1584.2 503.6 1584.6 499.8 1584.6 499.0Z" fill="url(#gLip)" stroke="#3a1810" stroke-width="1.1"/>
<path d="M1586.2 492.7C1587.6 492.0 1592.2 489.3 1594.8 488.4C1597.4 487.5 1597.4 487.6 1601.7 487.5C1606.0 487.4 1614.7 486.8 1620.7 487.5C1626.7 488.2 1632.2 489.8 1637.9 491.8C1643.6 493.8 1649.4 496.7 1655.1 499.6C1660.8 502.5 1666.6 505.9 1672.3 509.0C1678.0 512.1 1686.6 516.9 1689.5 518.5" fill="none" stroke="#161010" stroke-width="6"/>
<path d="M1620.5 488.3C1623.4 489.0 1632.0 490.6 1637.7 492.6C1643.4 494.6 1649.2 497.5 1654.9 500.4C1660.6 503.3 1666.4 506.6 1672.1 509.8C1677.8 513.0 1686.4 517.7 1689.3 519.3" fill="none" stroke="#dfe4ee" stroke-width="1.1" opacity="0.85"/>
<path d="M1602.7 485.1C1604.2 482.2 1608.8 473.7 1612.0 468.0C1615.2 462.3 1620.1 453.6 1621.7 450.7L1621.7 450.7C1623.1 449.6 1626.0 445.3 1630.3 444.2C1634.6 443.1 1641.8 443.1 1647.5 443.8C1653.2 444.5 1659.0 446.2 1664.7 448.1C1670.4 450.0 1676.2 452.3 1681.9 455.0C1687.6 457.7 1693.3 460.8 1699.1 464.4C1704.8 468.0 1711.4 472.5 1716.4 476.5C1721.4 480.5 1725.6 484.8 1729.3 488.5C1733.0 492.2 1737.2 497.2 1738.8 498.9L1738.8 498.9C1736.0 500.1 1727.2 506.5 1722.0 506.0C1716.8 505.5 1713.0 494.3 1707.8 496.0C1702.5 497.7 1693.4 512.8 1690.5 516.1L1690.5 516.1C1687.6 514.5 1679.0 509.8 1673.3 506.6C1667.6 503.5 1661.8 500.1 1656.1 497.2C1650.4 494.3 1644.6 491.4 1638.9 489.4C1633.2 487.4 1627.7 485.8 1621.7 485.1C1615.7 484.4 1605.9 485.1 1602.7 485.1Z" fill="url(#gClamp2)" stroke="#5a6274" stroke-width="1.2"/>
<path d="M1653.4 454.4C1657.0 455.3 1668.4 457.3 1674.9 459.6C1681.3 461.9 1686.3 464.9 1692.1 468.2C1697.8 471.5 1703.6 475.2 1709.4 479.4C1715.1 483.5 1722.3 489.7 1726.6 493.1C1730.9 496.5 1733.8 498.9 1735.2 500.0" fill="none" stroke="#2e3138" stroke-width="5" opacity="0.92"/>
<path d="M1654.6 452.2C1658.2 453.1 1669.6 455.1 1676.1 457.4C1682.5 459.7 1687.5 462.7 1693.3 466.0C1699.0 469.3 1704.8 473.1 1710.6 477.2C1716.3 481.3 1723.5 487.5 1727.8 490.9C1732.1 494.3 1735.0 496.6 1736.4 497.8" fill="none" stroke="#7a8090" stroke-width="0.9"/>
<path d="M1650.2 459.0C1653.8 459.9 1665.2 461.9 1671.7 464.2C1678.2 466.5 1683.2 469.5 1688.9 472.8C1694.7 476.1 1700.5 479.9 1706.2 484.0C1712.0 488.1 1719.1 494.3 1723.4 497.7C1727.7 501.1 1730.6 503.5 1732.0 504.6" fill="none" stroke="#2e3138" stroke-width="5" opacity="0.92"/>
<path d="M1651.4 456.8C1655.0 457.7 1666.5 459.7 1672.9 462.0C1679.4 464.3 1684.4 467.3 1690.1 470.6C1695.9 473.9 1701.7 477.7 1707.4 481.8C1713.2 485.9 1720.3 492.1 1724.6 495.5C1728.9 498.9 1731.8 501.2 1733.2 502.4" fill="none" stroke="#7a8090" stroke-width="0.9"/>
<path d="M1620.5 458 L1627 454.6" stroke="#2e3444" stroke-width="3" stroke-linecap="round"/>
<g transform="translate(504.5 181.5)"><path d="M1235 324.8 L1241.2 310.3 C1243 307.5 1246 306.5 1248 306.9 L1258 308.8 C1263 310.5 1267 313 1269.5 315.7 C1274 319.5 1277 323 1277.1 325.6 L1276.7 329.4 L1269.5 342 L1240 334 Z" fill="#181818"/><path d="M1259 313.5 L1253.5 327" stroke="#262626" stroke-width="10" stroke-linecap="butt"/><path d="M1259 313.5 L1253.5 327" stroke="#303030" stroke-width="5" stroke-linecap="butt"/><path d="M1203.7 314.1 C1201 314.5 1200 316 1199.8 318 L1185.3 344 L1186.5 348.6 L1190.7 363.9 L1195.2 379.2 L1237.3 403.6 L1254.2 402.9 L1259.5 399 L1275.6 368.5 L1272.5 347 L1268.7 341.7 L1235 324.8 L1213 315.3 Z" fill="#0b0b0b"/><path d="M1203.7 314.1 L1213 315.3 L1235 324.8 L1268.7 341.7 L1264 344.5 L1253.4 342.8 L1210.6 324.5 L1200.5 320 Z" fill="#171717"/><path d="M1237.3 324.6 C1246 327 1258 332 1265.6 338.2" fill="none" stroke="#050505" stroke-width="2.6"/><path d="M1210.6 324.5 L1253.4 342.8 L1245 361.6 L1200.6 340.9 Z" fill="#474747"/><path d="M1253.4 342.8 L1264 344.5 L1268 349 L1258 364 L1245 361.6 Z" fill="#242424"/><path d="M1254.5 345 L1247 360.5" stroke="#444" stroke-width="2.2"/><path d="M1200.6 340.9 L1245 361.6 L1258 364 L1252 376 L1241.2 373 L1195.2 356.2 Z" fill="#191919"/><path d="M1187 346 L1200.6 340.9 L1195.2 356.2 L1190 360 Z" fill="#141414"/></g>
</g>
<g id="labels">
<text x="257.3" y="857.8" class="lb" aria-label="CURRENT INTAKE"><tspan font-size="40.8">C</tspan><tspan font-size="32.6">URRENT </tspan><tspan font-size="40.8">I</tspan><tspan font-size="32.6">NTAKE</tspan></text>
<text x="804.1" y="780.0" class="lb" aria-label="MATCHED INLET"><tspan font-size="40.8">M</tspan><tspan font-size="32.6">ATCHED </tspan><tspan font-size="40.8">I</tspan><tspan font-size="32.6">NLET</tspan></text>
<text x="1922.8" y="516.2" class="lb" aria-label="OVERSIZED INLET"><tspan font-size="40.8">O</tspan><tspan font-size="32.6">VERSIZED </tspan><tspan font-size="40.8">I</tspan><tspan font-size="32.6">NLET</tspan></text>
<text x="2126.4" y="718.0" class="lb" aria-label="OVERSIZED INTAKE"><tspan font-size="40.8">O</tspan><tspan font-size="32.6">VERSIZED </tspan><tspan font-size="40.8">I</tspan><tspan font-size="32.6">NTAKE</tspan></text>
<text x="37" y="1427.6" class="lb" font-size="39.3">F90 TURBO INLET STUDY</text>
<path d="M1915 504 L1870 504 L1792 625.7" fill="none" stroke="#2e2e2e" stroke-width="2.8"/>
<path d="M2119.8 704.8 L2062 704.8 L2004.8 769" fill="none" stroke="#2e2e2e" stroke-width="2.8"/>
</g>
</g>
</svg>
</body></html>
